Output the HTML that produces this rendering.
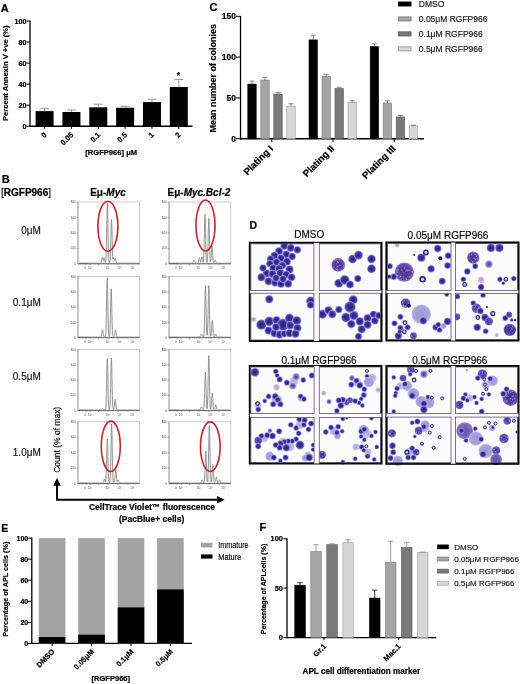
<!DOCTYPE html><html><head><meta charset="utf-8"><style>html,body{margin:0;padding:0;background:#fff;width:520px;height:684px;overflow:hidden}svg{display:block;font-family:"Liberation Sans",sans-serif;filter:blur(0.35px)}</style></head><body><svg width="520" height="684" viewBox="0 0 520 684" font-family="Liberation Sans, sans-serif"><text x="0.8" y="12.1" font-size="11" font-weight="bold" stroke="#000" stroke-width="0.22" text-anchor="start" fill="#000" >A</text>
<line x1="30.00" y1="20.50" x2="30.00" y2="127.00" stroke="#000" stroke-width="1.3"/>
<line x1="29.40" y1="126.30" x2="192.40" y2="126.30" stroke="#000" stroke-width="1.4"/>
<line x1="26.50" y1="126.30" x2="30.00" y2="126.30" stroke="#000" stroke-width="1"/>
<text x="26.6" y="128.9" font-size="7.2" font-weight="bold" stroke="#000" stroke-width="0.22" text-anchor="end" fill="#000" >0</text>
<line x1="26.50" y1="105.24" x2="30.00" y2="105.24" stroke="#000" stroke-width="1"/>
<text x="26.6" y="107.83999999999999" font-size="7.2" font-weight="bold" stroke="#000" stroke-width="0.22" text-anchor="end" fill="#000" >20</text>
<line x1="26.50" y1="84.18" x2="30.00" y2="84.18" stroke="#000" stroke-width="1"/>
<text x="26.6" y="86.78" font-size="7.2" font-weight="bold" stroke="#000" stroke-width="0.22" text-anchor="end" fill="#000" >40</text>
<line x1="26.50" y1="63.12" x2="30.00" y2="63.12" stroke="#000" stroke-width="1"/>
<text x="26.6" y="65.72" font-size="7.2" font-weight="bold" stroke="#000" stroke-width="0.22" text-anchor="end" fill="#000" >60</text>
<line x1="26.50" y1="42.06" x2="30.00" y2="42.06" stroke="#000" stroke-width="1"/>
<text x="26.6" y="44.660000000000004" font-size="7.2" font-weight="bold" stroke="#000" stroke-width="0.22" text-anchor="end" fill="#000" >80</text>
<line x1="26.50" y1="21.00" x2="30.00" y2="21.00" stroke="#000" stroke-width="1"/>
<text x="26.6" y="23.6" font-size="7.2" font-weight="bold" stroke="#000" stroke-width="0.22" text-anchor="end" fill="#000" >100</text>
<rect x="35.60" y="111.14" width="18.00" height="15.16" fill="#000"/>
<line x1="44.60" y1="108.71" x2="44.60" y2="111.14" stroke="#777" stroke-width="0.75"/>
<line x1="40.10" y1="108.71" x2="49.10" y2="108.71" stroke="#777" stroke-width="0.75"/>
<line x1="44.60" y1="126.30" x2="44.60" y2="128.90" stroke="#000" stroke-width="1"/>
<text x="47.1" y="135.3" font-size="7.5" font-weight="bold" stroke="#000" stroke-width="0.22" text-anchor="end" transform="rotate(-45 47.1 135.3)">0</text>
<rect x="62.44" y="111.98" width="18.00" height="14.32" fill="#000"/>
<line x1="71.44" y1="109.98" x2="71.44" y2="111.98" stroke="#777" stroke-width="0.75"/>
<line x1="66.94" y1="109.98" x2="75.94" y2="109.98" stroke="#777" stroke-width="0.75"/>
<line x1="71.44" y1="126.30" x2="71.44" y2="128.90" stroke="#000" stroke-width="1"/>
<text x="73.94" y="135.3" font-size="7.5" font-weight="bold" stroke="#000" stroke-width="0.22" text-anchor="end" transform="rotate(-45 73.94 135.3)">0.05</text>
<rect x="89.28" y="107.35" width="18.00" height="18.95" fill="#000"/>
<line x1="98.28" y1="104.19" x2="98.28" y2="107.35" stroke="#777" stroke-width="0.75"/>
<line x1="93.78" y1="104.19" x2="102.78" y2="104.19" stroke="#777" stroke-width="0.75"/>
<line x1="98.28" y1="126.30" x2="98.28" y2="128.90" stroke="#000" stroke-width="1"/>
<text x="100.78" y="135.3" font-size="7.5" font-weight="bold" stroke="#000" stroke-width="0.22" text-anchor="end" transform="rotate(-45 100.78 135.3)">0.1</text>
<rect x="116.12" y="107.77" width="18.00" height="18.53" fill="#000"/>
<line x1="125.12" y1="106.29" x2="125.12" y2="107.77" stroke="#777" stroke-width="0.75"/>
<line x1="120.62" y1="106.29" x2="129.62" y2="106.29" stroke="#777" stroke-width="0.75"/>
<line x1="125.12" y1="126.30" x2="125.12" y2="128.90" stroke="#000" stroke-width="1"/>
<text x="127.62" y="135.3" font-size="7.5" font-weight="bold" stroke="#000" stroke-width="0.22" text-anchor="end" transform="rotate(-45 127.62 135.3)">0.5</text>
<rect x="142.96" y="102.08" width="18.00" height="24.22" fill="#000"/>
<line x1="151.96" y1="99.24" x2="151.96" y2="102.08" stroke="#777" stroke-width="0.75"/>
<line x1="147.46" y1="99.24" x2="156.46" y2="99.24" stroke="#777" stroke-width="0.75"/>
<line x1="151.96" y1="126.30" x2="151.96" y2="128.90" stroke="#000" stroke-width="1"/>
<text x="154.46" y="135.3" font-size="7.5" font-weight="bold" stroke="#000" stroke-width="0.22" text-anchor="end" transform="rotate(-45 154.46 135.3)">1</text>
<rect x="169.80" y="87.02" width="18.00" height="39.28" fill="#000"/>
<line x1="178.80" y1="79.55" x2="178.80" y2="87.02" stroke="#777" stroke-width="0.75"/>
<line x1="174.30" y1="79.55" x2="183.30" y2="79.55" stroke="#777" stroke-width="0.75"/>
<line x1="178.80" y1="126.30" x2="178.80" y2="128.90" stroke="#000" stroke-width="1"/>
<text x="181.29999999999998" y="135.3" font-size="7.5" font-weight="bold" stroke="#000" stroke-width="0.22" text-anchor="end" transform="rotate(-45 181.29999999999998 135.3)">2</text>
<text x="178.6" y="77.8" font-size="9" font-weight="bold" stroke="#000" stroke-width="0.22" text-anchor="middle" fill="#000" >*</text>
<text x="85.3" y="155.2" font-size="7.9" font-weight="bold" stroke="#000" stroke-width="0.22" text-anchor="start" fill="#000" textLength="51.8" lengthAdjust="spacingAndGlyphs" >[RGFP966] μM</text>
<text x="0" y="0" font-size="7.6" font-weight="bold" stroke="#000" stroke-width="0.18" text-anchor="middle" transform="translate(8.2,73.2) rotate(-90)" textLength="95.5" lengthAdjust="spacingAndGlyphs">Percent Annexin V +ve (%)</text>
<text x="209.5" y="11.4" font-size="11" font-weight="bold" stroke="#000" stroke-width="0.22" text-anchor="start" fill="#000" >C</text>
<line x1="240.50" y1="16.00" x2="240.50" y2="139.50" stroke="#000" stroke-width="1.3"/>
<line x1="239.90" y1="138.80" x2="424.00" y2="138.80" stroke="#000" stroke-width="1.4"/>
<line x1="236.00" y1="138.80" x2="240.50" y2="138.80" stroke="#000" stroke-width="1"/>
<text x="236" y="141.8" font-size="8.5" font-weight="bold" stroke="#000" stroke-width="0.22" text-anchor="end" fill="#000" >0</text>
<line x1="236.00" y1="97.97" x2="240.50" y2="97.97" stroke="#000" stroke-width="1"/>
<text x="236" y="100.965" font-size="8.5" font-weight="bold" stroke="#000" stroke-width="0.22" text-anchor="end" fill="#000" >50</text>
<line x1="236.00" y1="57.13" x2="240.50" y2="57.13" stroke="#000" stroke-width="1"/>
<text x="236" y="60.13000000000001" font-size="8.5" font-weight="bold" stroke="#000" stroke-width="0.22" text-anchor="end" fill="#000" >100</text>
<line x1="236.00" y1="16.30" x2="240.50" y2="16.30" stroke="#000" stroke-width="1"/>
<text x="236" y="19.295000000000016" font-size="8.5" font-weight="bold" stroke="#000" stroke-width="0.22" text-anchor="end" fill="#000" >150</text>
<rect x="247.80" y="84.10" width="8.40" height="54.70" fill="#000" stroke="#000" stroke-width="0.6"/>
<line x1="252.00" y1="81.20" x2="252.00" y2="84.10" stroke="#555" stroke-width="0.7"/>
<line x1="249.50" y1="81.20" x2="254.50" y2="81.20" stroke="#555" stroke-width="0.7"/>
<rect x="260.80" y="80.10" width="8.40" height="58.70" fill="#a5a5a5" stroke="#777" stroke-width="0.6"/>
<line x1="265.00" y1="77.40" x2="265.00" y2="80.10" stroke="#555" stroke-width="0.7"/>
<line x1="262.50" y1="77.40" x2="267.50" y2="77.40" stroke="#555" stroke-width="0.7"/>
<rect x="273.80" y="94.10" width="8.40" height="44.70" fill="#7a7a7a" stroke="#555" stroke-width="0.6"/>
<line x1="278.00" y1="92.50" x2="278.00" y2="94.10" stroke="#555" stroke-width="0.7"/>
<line x1="275.50" y1="92.50" x2="280.50" y2="92.50" stroke="#555" stroke-width="0.7"/>
<rect x="286.80" y="106.20" width="8.40" height="32.60" fill="#d6d6d6" stroke="#9c9c9c" stroke-width="0.6"/>
<line x1="291.00" y1="103.80" x2="291.00" y2="106.20" stroke="#555" stroke-width="0.7"/>
<line x1="288.50" y1="103.80" x2="293.50" y2="103.80" stroke="#555" stroke-width="0.7"/>
<line x1="271.80" y1="138.80" x2="271.80" y2="142.10" stroke="#000" stroke-width="1"/>
<text x="273.8" y="149.3" font-size="9.6" font-weight="bold" stroke="#000" stroke-width="0.22" text-anchor="end" transform="rotate(-45 273.8 149.3)">Plating I</text>
<rect x="309.00" y="39.90" width="8.40" height="98.90" fill="#000" stroke="#000" stroke-width="0.6"/>
<line x1="313.20" y1="35.30" x2="313.20" y2="39.90" stroke="#555" stroke-width="0.7"/>
<line x1="310.70" y1="35.30" x2="315.70" y2="35.30" stroke="#555" stroke-width="0.7"/>
<rect x="322.00" y="76.20" width="8.40" height="62.60" fill="#a5a5a5" stroke="#777" stroke-width="0.6"/>
<line x1="326.20" y1="74.40" x2="326.20" y2="76.20" stroke="#555" stroke-width="0.7"/>
<line x1="323.70" y1="74.40" x2="328.70" y2="74.40" stroke="#555" stroke-width="0.7"/>
<rect x="335.00" y="88.50" width="8.40" height="50.30" fill="#7a7a7a" stroke="#555" stroke-width="0.6"/>
<line x1="339.20" y1="87.30" x2="339.20" y2="88.50" stroke="#555" stroke-width="0.7"/>
<line x1="336.70" y1="87.30" x2="341.70" y2="87.30" stroke="#555" stroke-width="0.7"/>
<rect x="348.00" y="102.30" width="8.40" height="36.50" fill="#d6d6d6" stroke="#9c9c9c" stroke-width="0.6"/>
<line x1="352.20" y1="100.80" x2="352.20" y2="102.30" stroke="#555" stroke-width="0.7"/>
<line x1="349.70" y1="100.80" x2="354.70" y2="100.80" stroke="#555" stroke-width="0.7"/>
<line x1="333.00" y1="138.80" x2="333.00" y2="142.10" stroke="#000" stroke-width="1"/>
<text x="335.0" y="149.3" font-size="9.6" font-weight="bold" stroke="#000" stroke-width="0.22" text-anchor="end" transform="rotate(-45 335.0 149.3)">Plating II</text>
<rect x="370.20" y="46.70" width="8.40" height="92.10" fill="#000" stroke="#000" stroke-width="0.6"/>
<line x1="374.40" y1="43.80" x2="374.40" y2="46.70" stroke="#555" stroke-width="0.7"/>
<line x1="371.90" y1="43.80" x2="376.90" y2="43.80" stroke="#555" stroke-width="0.7"/>
<rect x="383.20" y="103.00" width="8.40" height="35.80" fill="#a5a5a5" stroke="#777" stroke-width="0.6"/>
<line x1="387.40" y1="100.80" x2="387.40" y2="103.00" stroke="#555" stroke-width="0.7"/>
<line x1="384.90" y1="100.80" x2="389.90" y2="100.80" stroke="#555" stroke-width="0.7"/>
<rect x="396.20" y="116.90" width="8.40" height="21.90" fill="#7a7a7a" stroke="#555" stroke-width="0.6"/>
<line x1="400.40" y1="115.40" x2="400.40" y2="116.90" stroke="#555" stroke-width="0.7"/>
<line x1="397.90" y1="115.40" x2="402.90" y2="115.40" stroke="#555" stroke-width="0.7"/>
<rect x="409.20" y="125.90" width="8.40" height="12.90" fill="#d6d6d6" stroke="#9c9c9c" stroke-width="0.6"/>
<line x1="413.40" y1="125.20" x2="413.40" y2="125.90" stroke="#555" stroke-width="0.7"/>
<line x1="410.90" y1="125.20" x2="415.90" y2="125.20" stroke="#555" stroke-width="0.7"/>
<line x1="394.20" y1="138.80" x2="394.20" y2="142.10" stroke="#000" stroke-width="1"/>
<text x="396.2" y="149.3" font-size="9.6" font-weight="bold" stroke="#000" stroke-width="0.22" text-anchor="end" transform="rotate(-45 396.2 149.3)">Plating III</text>
<text x="0" y="0" font-size="9" font-weight="bold" stroke="#000" stroke-width="0.18" text-anchor="middle" transform="translate(216.3,78.3) rotate(-90)" textLength="108.5" lengthAdjust="spacingAndGlyphs">Mean number of colonies</text>
<rect x="398.40" y="2.00" width="12.60" height="4.00" fill="#000" stroke="#000" stroke-width="0.9"/>
<text x="418.8" y="7.2" font-size="8.5" stroke="#111" stroke-width="0.15" text-anchor="start" fill="#111" >DMSO</text>
<rect x="398.40" y="16.95" width="12.60" height="4.00" fill="#a5a5a5" stroke="#777" stroke-width="0.9"/>
<text x="418.8" y="22.15" font-size="8.5" stroke="#111" stroke-width="0.15" text-anchor="start" fill="#111" >0.05μM RGFP966</text>
<rect x="398.40" y="31.90" width="12.60" height="4.00" fill="#7a7a7a" stroke="#555" stroke-width="0.9"/>
<text x="418.8" y="37.1" font-size="8.5" stroke="#111" stroke-width="0.15" text-anchor="start" fill="#111" >0.1μM RGFP966</text>
<rect x="398.40" y="46.85" width="12.60" height="4.00" fill="#d6d6d6" stroke="#9c9c9c" stroke-width="0.9"/>
<text x="418.8" y="52.05" font-size="8.5" stroke="#111" stroke-width="0.15" text-anchor="start" fill="#111" >0.5μM RGFP966</text>
<text x="1.8" y="182.8" font-size="11" font-weight="bold" stroke="#000" stroke-width="0.22" text-anchor="start" fill="#000" >B</text>
<text x="1" y="195.6" font-size="10" stroke="#000" stroke-width="0.15"><tspan>[</tspan><tspan font-weight="bold" stroke-width="0.22">RGFP966</tspan><tspan>]</tspan></text>
<text x="90.2" y="196.3" font-size="10" font-weight="bold" stroke="#000" stroke-width="0.22">Eμ-<tspan font-style="italic">Myc</tspan></text>
<text x="167.5" y="196.3" font-size="10" font-weight="bold" stroke="#000" stroke-width="0.22">Eμ-<tspan font-style="italic">Myc.Bcl-2</tspan></text>
<text x="40.8" y="234.2" font-size="10" stroke="#111" stroke-width="0.15" text-anchor="end" fill="#111" >0μM</text>
<rect x="78.00" y="202.00" width="61.60" height="61.80" fill="none" stroke="#a8a8a8" stroke-width="0.6"/>
<line x1="78.00" y1="202.00" x2="78.00" y2="263.80" stroke="#9a9a9a" stroke-width="0.8"/>
<line x1="78.00" y1="263.80" x2="139.60" y2="263.80" stroke="#555" stroke-width="0.9"/>
<line x1="79.00" y1="263.50" x2="88.00" y2="263.50" stroke="#555" stroke-width="0.8"/>
<line x1="76.50" y1="263.80" x2="78.00" y2="263.80" stroke="#777" stroke-width="0.5"/>
<text x="75.7" y="264.90000000000003" font-size="2.9" text-anchor="end" fill="#444" >0</text>
<line x1="76.50" y1="248.35" x2="78.00" y2="248.35" stroke="#777" stroke-width="0.5"/>
<text x="75.7" y="249.45000000000002" font-size="2.9" text-anchor="end" fill="#444" >200</text>
<line x1="76.50" y1="232.90" x2="78.00" y2="232.90" stroke="#777" stroke-width="0.5"/>
<text x="75.7" y="234.0" font-size="2.9" text-anchor="end" fill="#444" >400</text>
<line x1="76.50" y1="217.45" x2="78.00" y2="217.45" stroke="#777" stroke-width="0.5"/>
<text x="75.7" y="218.54999999999998" font-size="2.9" text-anchor="end" fill="#444" >600</text>
<line x1="76.50" y1="202.00" x2="78.00" y2="202.00" stroke="#777" stroke-width="0.5"/>
<text x="75.7" y="203.1" font-size="2.9" text-anchor="end" fill="#444" >800</text>
<line x1="86.00" y1="263.80" x2="86.00" y2="265.30" stroke="#777" stroke-width="0.5"/>
<line x1="90.00" y1="263.80" x2="90.00" y2="265.30" stroke="#777" stroke-width="0.5"/>
<line x1="98.50" y1="263.80" x2="98.50" y2="265.30" stroke="#777" stroke-width="0.5"/>
<line x1="108.00" y1="263.80" x2="108.00" y2="265.30" stroke="#777" stroke-width="0.5"/>
<line x1="118.00" y1="263.80" x2="118.00" y2="265.30" stroke="#777" stroke-width="0.5"/>
<line x1="128.00" y1="263.80" x2="128.00" y2="265.30" stroke="#777" stroke-width="0.5"/>
<text x="85" y="268.8" font-size="2.8" text-anchor="middle" fill="#444" >0</text>
<text x="90" y="268.8" font-size="2.8" text-anchor="middle" fill="#444" >10²</text>
<text x="107.5" y="268.8" font-size="2.8" text-anchor="middle" fill="#444" >10³</text>
<text x="119.5" y="268.8" font-size="2.8" text-anchor="middle" fill="#444" >10⁴</text>
<text x="132.5" y="268.8" font-size="2.8" text-anchor="middle" fill="#444" >10⁵</text>
<path d="M78.80,263.10 L79.00,263.10 L79.20,263.10 L79.40,263.10 L79.60,263.10 L79.80,263.10 L80.00,263.10 L80.20,263.10 L80.40,263.10 L80.60,263.10 L80.80,263.10 L81.00,263.10 L81.20,263.10 L81.40,263.10 L81.60,263.10 L81.80,263.10 L82.00,263.10 L82.20,263.10 L82.40,263.10 L82.60,263.10 L82.80,263.10 L83.00,263.10 L83.20,263.10 L83.40,263.10 L83.60,263.10 L83.80,263.10 L84.00,263.10 L84.20,263.10 L84.40,263.10 L84.60,263.10 L84.80,263.10 L85.00,263.10 L85.20,263.10 L85.40,263.10 L85.60,263.10 L85.80,263.10 L86.00,263.10 L86.20,263.10 L86.40,263.10 L86.60,263.10 L86.80,263.10 L87.00,263.10 L87.20,263.10 L87.40,263.10 L87.60,263.10 L87.80,263.10 L88.00,263.10 L88.20,263.10 L88.40,263.10 L88.60,263.10 L88.80,263.10 L89.00,263.10 L89.20,263.10 L89.40,263.10 L89.60,263.10 L89.80,263.10 L90.00,263.10 L90.20,263.10 L90.40,263.10 L90.60,263.10 L90.80,263.10 L91.00,263.10 L91.20,263.10 L91.40,263.10 L91.60,263.10 L91.80,263.10 L92.00,263.10 L92.20,263.10 L92.40,263.10 L92.60,263.10 L92.80,263.10 L93.00,263.10 L93.20,263.10 L93.40,263.10 L93.60,263.10 L93.80,263.10 L94.00,263.10 L94.20,263.10 L94.40,263.10 L94.60,263.10 L94.80,263.10 L95.00,263.10 L95.20,263.10 L95.40,263.10 L95.60,263.10 L95.80,263.10 L96.00,263.10 L96.20,263.10 L96.40,263.10 L96.60,263.10 L96.80,263.10 L97.00,263.10 L97.20,263.10 L97.40,263.10 L97.60,263.10 L97.80,263.10 L98.00,263.10 L98.20,263.10 L98.40,263.10 L98.60,263.10 L98.80,263.10 L99.00,263.10 L99.20,263.10 L99.40,263.10 L99.60,263.10 L99.80,263.10 L100.00,263.10 L100.20,263.09 L100.40,263.07 L100.60,263.01 L100.80,262.88 L101.00,262.62 L101.20,262.16 L101.40,261.44 L101.60,260.44 L101.80,259.27 L102.00,258.14 L102.20,257.30 L102.40,256.99 L102.60,257.30 L102.80,258.14 L103.00,259.27 L103.20,260.44 L103.40,259.66 L103.60,258.63 L103.80,257.88 L104.00,257.60 L104.20,257.88 L104.40,258.63 L104.60,259.66 L104.80,260.71 L105.00,261.60 L105.20,262.26 L105.40,262.67 L105.60,262.21 L105.80,260.96 L106.00,258.42 L106.20,253.90 L106.40,246.79 L106.60,237.05 L106.80,225.61 L107.00,214.47 L107.20,206.26 L107.40,203.22 L107.60,206.26 L107.80,214.47 L108.00,225.61 L108.20,237.05 L108.40,246.79 L108.60,253.90 L108.80,258.42 L109.00,260.96 L109.20,262.21 L109.40,262.77 L109.60,262.70 L109.80,262.07 L110.00,260.74 L110.20,258.22 L110.40,253.98 L110.60,247.76 L110.80,239.84 L111.00,231.32 L111.20,223.97 L111.40,219.68 L111.60,219.68 L111.80,223.97 L112.00,231.32 L112.20,239.84 L112.40,247.76 L112.60,253.98 L112.80,258.22 L113.00,259.27 L113.20,258.14 L113.40,257.30 L113.60,256.99 L113.80,257.30 L114.00,258.14 L114.20,259.27 L114.40,260.44 L114.60,260.52 L114.80,259.57 L115.00,258.75 L115.20,258.28 L115.40,258.28 L115.60,258.75 L115.80,259.57 L116.00,260.52 L116.20,261.40 L116.40,262.09 L116.60,262.56 L116.80,262.84 L117.00,262.99 L117.20,263.06 L117.40,263.08 L117.60,263.09 L117.80,263.10 L118.00,263.10 L118.20,263.10 L118.40,263.10 L118.60,263.10 L118.80,263.10 L119.00,263.10 L119.20,263.10 L119.40,263.10 L119.60,263.10 L119.80,263.10 L120.00,263.10 L120.20,263.10 L120.40,263.10 L120.60,263.10 L120.80,263.10 L121.00,263.10 L121.20,263.10 L121.40,263.10 L121.60,263.10 L121.80,263.10 L122.00,263.10 L122.20,263.10 L122.40,263.10 L122.60,263.10 L122.80,263.10 L123.00,263.10 L123.20,263.10 L123.40,263.10 L123.60,263.10 L123.80,263.10 L124.00,263.10 L124.20,263.10 L124.40,263.10 L124.60,263.10 L124.80,263.10 L125.00,263.10 L125.20,263.10 L125.40,263.10 L125.60,263.10 L125.80,263.10 L126.00,263.10 L126.20,263.10 L126.40,263.10 L126.60,263.10 L126.80,263.10 L127.00,263.10 L127.20,263.10 L127.40,263.10 L127.60,263.10 L127.80,263.10 L128.00,263.10 L128.20,263.10 L128.40,263.10 L128.60,263.10 L128.80,263.10 L129.00,263.10 L129.20,263.10 L129.40,263.10 L129.60,263.10 L129.80,263.10 L130.00,263.10 L130.20,263.10 L130.40,263.10 L130.60,263.10 L130.80,263.10 L131.00,263.10 L131.20,263.10 L131.40,263.10 L131.60,263.10 L131.80,263.10 L132.00,263.10 L132.20,263.10 L132.40,263.10 L132.60,263.10 L132.80,263.10 L133.00,263.10 L133.20,263.10 L133.40,263.10 L133.60,263.10 L133.80,263.10 L134.00,263.10 L134.20,263.10 L134.40,263.10 L134.60,263.10 L134.80,263.10 L135.00,263.10 L135.20,263.10 L135.40,263.10 L135.60,263.10 L135.80,263.10 L136.00,263.10 L136.20,263.10 L136.40,263.10 L136.60,263.10 L136.80,263.10 L137.00,263.10 L137.20,263.10 L137.40,263.10 L137.60,263.10 L137.80,263.10 L138.00,263.10 L138.20,263.10 L138.40,263.10 L138.60,263.10" fill="rgba(0,0,0,0.05)" stroke="#858585" stroke-width="0.85" stroke-linejoin="round"/>
<rect x="169.00" y="202.00" width="61.80" height="61.80" fill="none" stroke="#a8a8a8" stroke-width="0.6"/>
<line x1="169.00" y1="202.00" x2="169.00" y2="263.80" stroke="#9a9a9a" stroke-width="0.8"/>
<line x1="169.00" y1="263.80" x2="230.80" y2="263.80" stroke="#555" stroke-width="0.9"/>
<line x1="170.00" y1="263.50" x2="179.00" y2="263.50" stroke="#555" stroke-width="0.8"/>
<line x1="167.50" y1="263.80" x2="169.00" y2="263.80" stroke="#777" stroke-width="0.5"/>
<text x="166.7" y="264.90000000000003" font-size="2.9" text-anchor="end" fill="#444" >0</text>
<line x1="167.50" y1="248.35" x2="169.00" y2="248.35" stroke="#777" stroke-width="0.5"/>
<text x="166.7" y="249.45000000000002" font-size="2.9" text-anchor="end" fill="#444" >200</text>
<line x1="167.50" y1="232.90" x2="169.00" y2="232.90" stroke="#777" stroke-width="0.5"/>
<text x="166.7" y="234.0" font-size="2.9" text-anchor="end" fill="#444" >400</text>
<line x1="167.50" y1="217.45" x2="169.00" y2="217.45" stroke="#777" stroke-width="0.5"/>
<text x="166.7" y="218.54999999999998" font-size="2.9" text-anchor="end" fill="#444" >600</text>
<line x1="167.50" y1="202.00" x2="169.00" y2="202.00" stroke="#777" stroke-width="0.5"/>
<text x="166.7" y="203.1" font-size="2.9" text-anchor="end" fill="#444" >800</text>
<line x1="177.00" y1="263.80" x2="177.00" y2="265.30" stroke="#777" stroke-width="0.5"/>
<line x1="181.00" y1="263.80" x2="181.00" y2="265.30" stroke="#777" stroke-width="0.5"/>
<line x1="189.50" y1="263.80" x2="189.50" y2="265.30" stroke="#777" stroke-width="0.5"/>
<line x1="199.00" y1="263.80" x2="199.00" y2="265.30" stroke="#777" stroke-width="0.5"/>
<line x1="209.00" y1="263.80" x2="209.00" y2="265.30" stroke="#777" stroke-width="0.5"/>
<line x1="219.00" y1="263.80" x2="219.00" y2="265.30" stroke="#777" stroke-width="0.5"/>
<text x="176" y="268.8" font-size="2.8" text-anchor="middle" fill="#444" >0</text>
<text x="181" y="268.8" font-size="2.8" text-anchor="middle" fill="#444" >10²</text>
<text x="198.5" y="268.8" font-size="2.8" text-anchor="middle" fill="#444" >10³</text>
<text x="210.5" y="268.8" font-size="2.8" text-anchor="middle" fill="#444" >10⁴</text>
<text x="223.5" y="268.8" font-size="2.8" text-anchor="middle" fill="#444" >10⁵</text>
<path d="M169.80,263.10 L170.00,263.10 L170.20,263.10 L170.40,263.10 L170.60,263.10 L170.80,263.10 L171.00,263.10 L171.20,263.10 L171.40,263.10 L171.60,263.10 L171.80,263.10 L172.00,263.10 L172.20,263.10 L172.40,263.10 L172.60,263.10 L172.80,263.10 L173.00,263.10 L173.20,263.10 L173.40,263.10 L173.60,263.10 L173.80,263.10 L174.00,263.10 L174.20,263.10 L174.40,263.10 L174.60,263.10 L174.80,263.10 L175.00,263.10 L175.20,263.10 L175.40,263.10 L175.60,263.10 L175.80,263.10 L176.00,263.10 L176.20,263.10 L176.40,263.10 L176.60,263.10 L176.80,263.10 L177.00,263.10 L177.20,263.10 L177.40,263.10 L177.60,263.10 L177.80,263.10 L178.00,263.10 L178.20,263.10 L178.40,263.10 L178.60,263.10 L178.80,263.10 L179.00,263.10 L179.20,263.10 L179.40,263.10 L179.60,263.10 L179.80,263.10 L180.00,263.10 L180.20,263.10 L180.40,263.10 L180.60,263.10 L180.80,263.10 L181.00,263.10 L181.20,263.10 L181.40,263.10 L181.60,263.10 L181.80,263.10 L182.00,263.10 L182.20,263.10 L182.40,263.10 L182.60,263.10 L182.80,263.10 L183.00,263.10 L183.20,263.10 L183.40,263.10 L183.60,263.10 L183.80,263.10 L184.00,263.10 L184.20,263.10 L184.40,263.10 L184.60,263.10 L184.80,263.10 L185.00,263.10 L185.20,263.10 L185.40,263.10 L185.60,263.10 L185.80,263.10 L186.00,263.10 L186.20,263.10 L186.40,263.10 L186.60,263.10 L186.80,263.10 L187.00,263.10 L187.20,263.10 L187.40,263.10 L187.60,263.10 L187.80,263.10 L188.00,263.10 L188.20,263.10 L188.40,263.10 L188.60,263.10 L188.80,263.10 L189.00,263.10 L189.20,263.10 L189.40,263.10 L189.60,263.10 L189.80,263.10 L190.00,263.10 L190.20,263.10 L190.40,263.10 L190.60,263.10 L190.80,263.10 L191.00,263.10 L191.20,263.10 L191.40,263.10 L191.60,263.10 L191.80,263.09 L192.00,263.08 L192.20,263.05 L192.40,262.99 L192.60,262.86 L192.80,262.63 L193.00,262.27 L193.20,261.77 L193.40,261.19 L193.60,260.62 L193.80,260.20 L194.00,260.05 L194.20,260.20 L194.40,260.62 L194.60,261.19 L194.80,261.77 L195.00,262.27 L195.20,262.63 L195.40,262.86 L195.60,262.99 L195.80,263.05 L196.00,263.08 L196.20,263.09 L196.40,263.10 L196.60,263.10 L196.80,263.10 L197.00,263.10 L197.20,263.09 L197.40,263.08 L197.60,263.05 L197.80,262.97 L198.00,262.81 L198.20,262.49 L198.40,261.96 L198.60,261.18 L198.80,260.19 L199.00,259.13 L199.20,258.21 L199.40,257.67 L199.60,257.67 L199.80,258.21 L200.00,259.13 L200.20,260.19 L200.40,261.18 L200.60,261.96 L200.80,262.16 L201.00,261.44 L201.20,260.44 L201.40,259.27 L201.60,258.14 L201.80,257.30 L202.00,256.99 L202.20,257.30 L202.40,258.14 L202.60,259.27 L202.80,260.44 L203.00,261.44 L203.20,262.16 L203.40,261.35 L203.60,259.28 L203.80,255.59 L204.00,249.79 L204.20,241.84 L204.40,232.50 L204.60,223.40 L204.80,216.70 L205.00,214.22 L205.20,216.70 L205.40,223.40 L205.60,232.50 L205.80,241.84 L206.00,249.79 L206.20,255.59 L206.40,259.28 L206.60,261.35 L206.80,262.38 L207.00,262.44 L207.20,261.50 L207.40,259.62 L207.60,256.25 L207.80,250.95 L208.00,243.70 L208.20,235.17 L208.40,226.88 L208.60,220.76 L208.80,218.50 L209.00,220.76 L209.20,226.88 L209.40,235.17 L209.60,243.70 L209.80,250.95 L210.00,256.25 L210.20,259.62 L210.40,261.50 L210.60,261.76 L210.80,260.47 L211.00,258.44 L211.20,255.66 L211.40,252.39 L211.60,249.21 L211.80,246.86 L212.00,245.99 L212.20,246.86 L212.40,249.21 L212.60,252.39 L212.80,255.66 L213.00,258.44 L213.20,260.47 L213.40,261.76 L213.60,262.49 L213.80,262.63 L214.00,262.27 L214.20,261.77 L214.40,261.19 L214.60,260.62 L214.80,260.20 L215.00,260.05 L215.20,260.20 L215.40,260.62 L215.60,261.19 L215.80,261.77 L216.00,262.27 L216.20,262.63 L216.40,262.86 L216.60,262.99 L216.80,263.05 L217.00,263.08 L217.20,263.09 L217.40,263.10 L217.60,263.10 L217.80,263.10 L218.00,263.10 L218.20,263.10 L218.40,263.10 L218.60,263.10 L218.80,263.10 L219.00,263.10 L219.20,263.10 L219.40,263.10 L219.60,263.10 L219.80,263.10 L220.00,263.10 L220.20,263.10 L220.40,263.10 L220.60,263.10 L220.80,263.10 L221.00,263.10 L221.20,263.10 L221.40,263.10 L221.60,263.10 L221.80,263.10 L222.00,263.10 L222.20,263.10 L222.40,263.10 L222.60,263.10 L222.80,263.10 L223.00,263.10 L223.20,263.10 L223.40,263.10 L223.60,263.10 L223.80,263.10 L224.00,263.10 L224.20,263.10 L224.40,263.10 L224.60,263.10 L224.80,263.10 L225.00,263.10 L225.20,263.10 L225.40,263.10 L225.60,263.10 L225.80,263.10 L226.00,263.10 L226.20,263.10 L226.40,263.10 L226.60,263.10 L226.80,263.10 L227.00,263.10 L227.20,263.10 L227.40,263.10 L227.60,263.10 L227.80,263.10 L228.00,263.10 L228.20,263.10 L228.40,263.10 L228.60,263.10 L228.80,263.10 L229.00,263.10 L229.20,263.10 L229.40,263.10 L229.60,263.10 L229.80,263.10 L230.00,263.10" fill="rgba(0,0,0,0.05)" stroke="#858585" stroke-width="0.85" stroke-linejoin="round"/>
<text x="40.8" y="305.6" font-size="10" stroke="#111" stroke-width="0.15" text-anchor="end" fill="#111" >0.1μM</text>
<rect x="78.00" y="276.60" width="61.60" height="61.10" fill="none" stroke="#a8a8a8" stroke-width="0.6"/>
<line x1="78.00" y1="276.60" x2="78.00" y2="337.70" stroke="#9a9a9a" stroke-width="0.8"/>
<line x1="78.00" y1="337.70" x2="139.60" y2="337.70" stroke="#555" stroke-width="0.9"/>
<line x1="79.00" y1="337.40" x2="88.00" y2="337.40" stroke="#555" stroke-width="0.8"/>
<line x1="76.50" y1="337.70" x2="78.00" y2="337.70" stroke="#777" stroke-width="0.5"/>
<text x="75.7" y="338.8" font-size="2.9" text-anchor="end" fill="#444" >0</text>
<line x1="76.50" y1="322.43" x2="78.00" y2="322.43" stroke="#777" stroke-width="0.5"/>
<text x="75.7" y="323.52500000000003" font-size="2.9" text-anchor="end" fill="#444" >200</text>
<line x1="76.50" y1="307.15" x2="78.00" y2="307.15" stroke="#777" stroke-width="0.5"/>
<text x="75.7" y="308.25" font-size="2.9" text-anchor="end" fill="#444" >400</text>
<line x1="76.50" y1="291.88" x2="78.00" y2="291.88" stroke="#777" stroke-width="0.5"/>
<text x="75.7" y="292.975" font-size="2.9" text-anchor="end" fill="#444" >600</text>
<line x1="76.50" y1="276.60" x2="78.00" y2="276.60" stroke="#777" stroke-width="0.5"/>
<text x="75.7" y="277.70000000000005" font-size="2.9" text-anchor="end" fill="#444" >800</text>
<line x1="86.00" y1="337.70" x2="86.00" y2="339.20" stroke="#777" stroke-width="0.5"/>
<line x1="90.00" y1="337.70" x2="90.00" y2="339.20" stroke="#777" stroke-width="0.5"/>
<line x1="98.50" y1="337.70" x2="98.50" y2="339.20" stroke="#777" stroke-width="0.5"/>
<line x1="108.00" y1="337.70" x2="108.00" y2="339.20" stroke="#777" stroke-width="0.5"/>
<line x1="118.00" y1="337.70" x2="118.00" y2="339.20" stroke="#777" stroke-width="0.5"/>
<line x1="128.00" y1="337.70" x2="128.00" y2="339.20" stroke="#777" stroke-width="0.5"/>
<text x="85" y="342.7" font-size="2.8" text-anchor="middle" fill="#444" >0</text>
<text x="90" y="342.7" font-size="2.8" text-anchor="middle" fill="#444" >10²</text>
<text x="107.5" y="342.7" font-size="2.8" text-anchor="middle" fill="#444" >10³</text>
<text x="119.5" y="342.7" font-size="2.8" text-anchor="middle" fill="#444" >10⁴</text>
<text x="132.5" y="342.7" font-size="2.8" text-anchor="middle" fill="#444" >10⁵</text>
<path d="M78.80,337.00 L79.00,337.00 L79.20,337.00 L79.40,337.00 L79.60,337.00 L79.80,337.00 L80.00,337.00 L80.20,337.00 L80.40,337.00 L80.60,337.00 L80.80,337.00 L81.00,337.00 L81.20,337.00 L81.40,337.00 L81.60,337.00 L81.80,337.00 L82.00,337.00 L82.20,337.00 L82.40,337.00 L82.60,337.00 L82.80,337.00 L83.00,337.00 L83.20,337.00 L83.40,337.00 L83.60,337.00 L83.80,337.00 L84.00,337.00 L84.20,337.00 L84.40,337.00 L84.60,337.00 L84.80,337.00 L85.00,337.00 L85.20,337.00 L85.40,337.00 L85.60,337.00 L85.80,337.00 L86.00,337.00 L86.20,337.00 L86.40,337.00 L86.60,337.00 L86.80,337.00 L87.00,337.00 L87.20,337.00 L87.40,337.00 L87.60,337.00 L87.80,337.00 L88.00,337.00 L88.20,337.00 L88.40,337.00 L88.60,337.00 L88.80,337.00 L89.00,337.00 L89.20,337.00 L89.40,337.00 L89.60,337.00 L89.80,337.00 L90.00,337.00 L90.20,337.00 L90.40,337.00 L90.60,337.00 L90.80,337.00 L91.00,337.00 L91.20,337.00 L91.40,337.00 L91.60,337.00 L91.80,337.00 L92.00,337.00 L92.20,337.00 L92.40,337.00 L92.60,337.00 L92.80,337.00 L93.00,337.00 L93.20,337.00 L93.40,337.00 L93.60,337.00 L93.80,337.00 L94.00,337.00 L94.20,337.00 L94.40,337.00 L94.60,337.00 L94.80,337.00 L95.00,337.00 L95.20,337.00 L95.40,337.00 L95.60,337.00 L95.80,337.00 L96.00,337.00 L96.20,337.00 L96.40,337.00 L96.60,337.00 L96.80,337.00 L97.00,337.00 L97.20,337.00 L97.40,337.00 L97.60,337.00 L97.80,337.00 L98.00,337.00 L98.20,337.00 L98.40,337.00 L98.60,337.00 L98.80,337.00 L99.00,337.00 L99.20,337.00 L99.40,337.00 L99.60,337.00 L99.80,337.00 L100.00,337.00 L100.20,336.99 L100.40,336.98 L100.60,336.93 L100.80,336.83 L101.00,336.61 L101.20,336.20 L101.40,335.50 L101.60,334.47 L101.80,333.17 L102.00,331.76 L102.20,330.55 L102.40,329.85 L102.60,329.85 L102.80,330.55 L103.00,331.76 L103.20,333.17 L103.40,334.47 L103.60,335.50 L103.80,336.20 L104.00,336.61 L104.20,336.83 L104.40,336.93 L104.60,336.98 L104.80,336.97 L105.00,336.89 L105.20,336.67 L105.40,336.13 L105.60,334.88 L105.80,332.38 L106.00,327.90 L106.20,320.88 L106.40,311.25 L106.60,299.94 L106.80,288.93 L107.00,280.81 L107.20,277.81 L107.40,280.81 L107.60,288.93 L107.80,299.94 L108.00,311.25 L108.20,320.88 L108.40,327.90 L108.60,332.38 L108.80,334.88 L109.00,336.13 L109.20,336.67 L109.40,336.29 L109.60,335.27 L109.80,333.22 L110.00,329.58 L110.20,323.84 L110.40,315.98 L110.60,306.75 L110.80,297.76 L111.00,291.13 L111.20,288.68 L111.40,291.13 L111.60,297.76 L111.80,306.75 L112.00,315.98 L112.20,323.84 L112.40,329.58 L112.60,333.22 L112.80,335.27 L113.00,336.29 L113.20,336.73 L113.40,336.91 L113.60,336.93 L113.80,336.83 L114.00,336.61 L114.20,336.20 L114.40,335.50 L114.60,334.47 L114.80,333.17 L115.00,331.76 L115.20,330.55 L115.40,329.85 L115.60,329.85 L115.80,330.55 L116.00,331.76 L116.20,333.17 L116.40,334.47 L116.60,335.50 L116.80,336.20 L117.00,336.61 L117.20,336.83 L117.40,336.93 L117.60,336.98 L117.80,336.99 L118.00,337.00 L118.20,337.00 L118.40,337.00 L118.60,337.00 L118.80,337.00 L119.00,337.00 L119.20,337.00 L119.40,337.00 L119.60,337.00 L119.80,337.00 L120.00,337.00 L120.20,337.00 L120.40,337.00 L120.60,337.00 L120.80,337.00 L121.00,337.00 L121.20,337.00 L121.40,337.00 L121.60,337.00 L121.80,337.00 L122.00,337.00 L122.20,337.00 L122.40,337.00 L122.60,337.00 L122.80,337.00 L123.00,337.00 L123.20,337.00 L123.40,337.00 L123.60,337.00 L123.80,337.00 L124.00,337.00 L124.20,337.00 L124.40,337.00 L124.60,337.00 L124.80,337.00 L125.00,337.00 L125.20,337.00 L125.40,337.00 L125.60,337.00 L125.80,337.00 L126.00,337.00 L126.20,337.00 L126.40,337.00 L126.60,337.00 L126.80,337.00 L127.00,337.00 L127.20,337.00 L127.40,337.00 L127.60,337.00 L127.80,337.00 L128.00,337.00 L128.20,337.00 L128.40,337.00 L128.60,337.00 L128.80,337.00 L129.00,337.00 L129.20,337.00 L129.40,337.00 L129.60,337.00 L129.80,337.00 L130.00,337.00 L130.20,337.00 L130.40,337.00 L130.60,337.00 L130.80,337.00 L131.00,337.00 L131.20,337.00 L131.40,337.00 L131.60,337.00 L131.80,337.00 L132.00,337.00 L132.20,337.00 L132.40,337.00 L132.60,337.00 L132.80,337.00 L133.00,337.00 L133.20,337.00 L133.40,337.00 L133.60,337.00 L133.80,337.00 L134.00,337.00 L134.20,337.00 L134.40,337.00 L134.60,337.00 L134.80,337.00 L135.00,337.00 L135.20,337.00 L135.40,337.00 L135.60,337.00 L135.80,337.00 L136.00,337.00 L136.20,337.00 L136.40,337.00 L136.60,337.00 L136.80,337.00 L137.00,337.00 L137.20,337.00 L137.40,337.00 L137.60,337.00 L137.80,337.00 L138.00,337.00 L138.20,337.00 L138.40,337.00 L138.60,337.00" fill="rgba(0,0,0,0.05)" stroke="#858585" stroke-width="0.85" stroke-linejoin="round"/>
<rect x="169.00" y="276.60" width="61.80" height="61.10" fill="none" stroke="#a8a8a8" stroke-width="0.6"/>
<line x1="169.00" y1="276.60" x2="169.00" y2="337.70" stroke="#9a9a9a" stroke-width="0.8"/>
<line x1="169.00" y1="337.70" x2="230.80" y2="337.70" stroke="#555" stroke-width="0.9"/>
<line x1="170.00" y1="337.40" x2="179.00" y2="337.40" stroke="#555" stroke-width="0.8"/>
<line x1="167.50" y1="337.70" x2="169.00" y2="337.70" stroke="#777" stroke-width="0.5"/>
<text x="166.7" y="338.8" font-size="2.9" text-anchor="end" fill="#444" >0</text>
<line x1="167.50" y1="322.43" x2="169.00" y2="322.43" stroke="#777" stroke-width="0.5"/>
<text x="166.7" y="323.52500000000003" font-size="2.9" text-anchor="end" fill="#444" >200</text>
<line x1="167.50" y1="307.15" x2="169.00" y2="307.15" stroke="#777" stroke-width="0.5"/>
<text x="166.7" y="308.25" font-size="2.9" text-anchor="end" fill="#444" >400</text>
<line x1="167.50" y1="291.88" x2="169.00" y2="291.88" stroke="#777" stroke-width="0.5"/>
<text x="166.7" y="292.975" font-size="2.9" text-anchor="end" fill="#444" >600</text>
<line x1="167.50" y1="276.60" x2="169.00" y2="276.60" stroke="#777" stroke-width="0.5"/>
<text x="166.7" y="277.70000000000005" font-size="2.9" text-anchor="end" fill="#444" >800</text>
<line x1="177.00" y1="337.70" x2="177.00" y2="339.20" stroke="#777" stroke-width="0.5"/>
<line x1="181.00" y1="337.70" x2="181.00" y2="339.20" stroke="#777" stroke-width="0.5"/>
<line x1="189.50" y1="337.70" x2="189.50" y2="339.20" stroke="#777" stroke-width="0.5"/>
<line x1="199.00" y1="337.70" x2="199.00" y2="339.20" stroke="#777" stroke-width="0.5"/>
<line x1="209.00" y1="337.70" x2="209.00" y2="339.20" stroke="#777" stroke-width="0.5"/>
<line x1="219.00" y1="337.70" x2="219.00" y2="339.20" stroke="#777" stroke-width="0.5"/>
<text x="176" y="342.7" font-size="2.8" text-anchor="middle" fill="#444" >0</text>
<text x="181" y="342.7" font-size="2.8" text-anchor="middle" fill="#444" >10²</text>
<text x="198.5" y="342.7" font-size="2.8" text-anchor="middle" fill="#444" >10³</text>
<text x="210.5" y="342.7" font-size="2.8" text-anchor="middle" fill="#444" >10⁴</text>
<text x="223.5" y="342.7" font-size="2.8" text-anchor="middle" fill="#444" >10⁵</text>
<path d="M169.80,337.00 L170.00,337.00 L170.20,337.00 L170.40,337.00 L170.60,337.00 L170.80,337.00 L171.00,337.00 L171.20,337.00 L171.40,337.00 L171.60,337.00 L171.80,337.00 L172.00,337.00 L172.20,337.00 L172.40,337.00 L172.60,337.00 L172.80,337.00 L173.00,337.00 L173.20,337.00 L173.40,337.00 L173.60,337.00 L173.80,337.00 L174.00,337.00 L174.20,337.00 L174.40,337.00 L174.60,337.00 L174.80,337.00 L175.00,337.00 L175.20,337.00 L175.40,337.00 L175.60,337.00 L175.80,337.00 L176.00,337.00 L176.20,337.00 L176.40,337.00 L176.60,337.00 L176.80,337.00 L177.00,337.00 L177.20,337.00 L177.40,337.00 L177.60,337.00 L177.80,337.00 L178.00,337.00 L178.20,337.00 L178.40,337.00 L178.60,337.00 L178.80,337.00 L179.00,337.00 L179.20,337.00 L179.40,337.00 L179.60,337.00 L179.80,337.00 L180.00,337.00 L180.20,337.00 L180.40,337.00 L180.60,337.00 L180.80,337.00 L181.00,337.00 L181.20,337.00 L181.40,337.00 L181.60,337.00 L181.80,337.00 L182.00,337.00 L182.20,337.00 L182.40,337.00 L182.60,337.00 L182.80,337.00 L183.00,337.00 L183.20,337.00 L183.40,337.00 L183.60,337.00 L183.80,337.00 L184.00,337.00 L184.20,337.00 L184.40,337.00 L184.60,337.00 L184.80,337.00 L185.00,337.00 L185.20,337.00 L185.40,337.00 L185.60,337.00 L185.80,337.00 L186.00,337.00 L186.20,337.00 L186.40,337.00 L186.60,337.00 L186.80,337.00 L187.00,337.00 L187.20,337.00 L187.40,337.00 L187.60,337.00 L187.80,337.00 L188.00,337.00 L188.20,337.00 L188.40,337.00 L188.60,337.00 L188.80,337.00 L189.00,337.00 L189.20,337.00 L189.40,337.00 L189.60,337.00 L189.80,337.00 L190.00,337.00 L190.20,337.00 L190.40,337.00 L190.60,337.00 L190.80,337.00 L191.00,337.00 L191.20,337.00 L191.40,337.00 L191.60,337.00 L191.80,337.00 L192.00,337.00 L192.20,337.00 L192.40,337.00 L192.60,337.00 L192.80,337.00 L193.00,337.00 L193.20,337.00 L193.40,337.00 L193.60,337.00 L193.80,337.00 L194.00,337.00 L194.20,337.00 L194.40,337.00 L194.60,337.00 L194.80,337.00 L195.00,337.00 L195.20,337.00 L195.40,337.00 L195.60,337.00 L195.80,337.00 L196.00,337.00 L196.20,337.00 L196.40,337.00 L196.60,337.00 L196.80,337.00 L197.00,337.00 L197.20,337.00 L197.40,337.00 L197.60,337.00 L197.80,337.00 L198.00,337.00 L198.20,337.00 L198.40,337.00 L198.60,337.00 L198.80,337.00 L199.00,337.00 L199.20,337.00 L199.40,336.99 L199.60,336.97 L199.80,336.93 L200.00,336.84 L200.20,336.66 L200.40,336.37 L200.60,335.95 L200.80,335.40 L201.00,334.82 L201.20,334.31 L201.40,334.02 L201.60,334.02 L201.80,334.31 L202.00,334.82 L202.20,335.40 L202.40,335.95 L202.60,336.37 L202.80,336.66 L203.00,336.84 L203.20,336.91 L203.40,336.72 L203.60,336.24 L203.80,335.16 L204.00,332.99 L204.20,329.11 L204.40,323.02 L204.60,314.67 L204.80,304.86 L205.00,295.31 L205.20,288.26 L205.40,285.66 L205.60,288.26 L205.80,295.31 L206.00,304.86 L206.20,314.67 L206.40,323.02 L206.60,329.11 L206.80,332.99 L207.00,335.16 L207.20,335.16 L207.40,332.99 L207.60,329.11 L207.80,323.02 L208.00,314.67 L208.20,304.86 L208.40,295.31 L208.60,288.26 L208.80,285.66 L209.00,288.26 L209.20,295.31 L209.40,304.86 L209.60,314.67 L209.80,323.02 L210.00,329.11 L210.20,332.99 L210.40,335.16 L210.60,336.24 L210.80,336.09 L211.00,335.12 L211.20,333.50 L211.40,331.10 L211.60,328.06 L211.80,324.78 L212.00,321.96 L212.20,320.31 L212.40,320.31 L212.60,321.96 L212.80,324.78 L213.00,328.06 L213.20,331.10 L213.40,333.50 L213.60,335.12 L213.80,336.09 L214.00,336.61 L214.20,336.85 L214.40,336.76 L214.60,336.54 L214.80,336.18 L215.00,335.69 L215.20,335.11 L215.40,334.55 L215.60,334.13 L215.80,333.98 L216.00,334.13 L216.20,334.55 L216.40,335.11 L216.60,335.69 L216.80,336.18 L217.00,336.54 L217.20,336.76 L217.40,336.89 L217.60,336.96 L217.80,336.98 L218.00,336.99 L218.20,337.00 L218.40,337.00 L218.60,337.00 L218.80,337.00 L219.00,337.00 L219.20,337.00 L219.40,337.00 L219.60,337.00 L219.80,337.00 L220.00,337.00 L220.20,337.00 L220.40,337.00 L220.60,337.00 L220.80,337.00 L221.00,337.00 L221.20,337.00 L221.40,337.00 L221.60,337.00 L221.80,337.00 L222.00,337.00 L222.20,337.00 L222.40,337.00 L222.60,337.00 L222.80,337.00 L223.00,337.00 L223.20,337.00 L223.40,337.00 L223.60,337.00 L223.80,337.00 L224.00,337.00 L224.20,337.00 L224.40,337.00 L224.60,337.00 L224.80,337.00 L225.00,337.00 L225.20,337.00 L225.40,337.00 L225.60,337.00 L225.80,337.00 L226.00,337.00 L226.20,337.00 L226.40,337.00 L226.60,337.00 L226.80,337.00 L227.00,337.00 L227.20,337.00 L227.40,337.00 L227.60,337.00 L227.80,337.00 L228.00,337.00 L228.20,337.00 L228.40,337.00 L228.60,337.00 L228.80,337.00 L229.00,337.00 L229.20,337.00 L229.40,337.00 L229.60,337.00 L229.80,337.00 L230.00,337.00" fill="rgba(0,0,0,0.05)" stroke="#858585" stroke-width="0.85" stroke-linejoin="round"/>
<text x="40.8" y="379.6" font-size="10" stroke="#111" stroke-width="0.15" text-anchor="end" fill="#111" >0.5μM</text>
<rect x="78.00" y="349.60" width="61.60" height="61.00" fill="none" stroke="#a8a8a8" stroke-width="0.6"/>
<line x1="78.00" y1="349.60" x2="78.00" y2="410.60" stroke="#9a9a9a" stroke-width="0.8"/>
<line x1="78.00" y1="410.60" x2="139.60" y2="410.60" stroke="#555" stroke-width="0.9"/>
<line x1="79.00" y1="410.30" x2="88.00" y2="410.30" stroke="#555" stroke-width="0.8"/>
<line x1="76.50" y1="410.60" x2="78.00" y2="410.60" stroke="#777" stroke-width="0.5"/>
<text x="75.7" y="411.70000000000005" font-size="2.9" text-anchor="end" fill="#444" >0</text>
<line x1="76.50" y1="395.35" x2="78.00" y2="395.35" stroke="#777" stroke-width="0.5"/>
<text x="75.7" y="396.45000000000005" font-size="2.9" text-anchor="end" fill="#444" >200</text>
<line x1="76.50" y1="380.10" x2="78.00" y2="380.10" stroke="#777" stroke-width="0.5"/>
<text x="75.7" y="381.20000000000005" font-size="2.9" text-anchor="end" fill="#444" >400</text>
<line x1="76.50" y1="364.85" x2="78.00" y2="364.85" stroke="#777" stroke-width="0.5"/>
<text x="75.7" y="365.95000000000005" font-size="2.9" text-anchor="end" fill="#444" >600</text>
<line x1="76.50" y1="349.60" x2="78.00" y2="349.60" stroke="#777" stroke-width="0.5"/>
<text x="75.7" y="350.70000000000005" font-size="2.9" text-anchor="end" fill="#444" >800</text>
<line x1="86.00" y1="410.60" x2="86.00" y2="412.10" stroke="#777" stroke-width="0.5"/>
<line x1="90.00" y1="410.60" x2="90.00" y2="412.10" stroke="#777" stroke-width="0.5"/>
<line x1="98.50" y1="410.60" x2="98.50" y2="412.10" stroke="#777" stroke-width="0.5"/>
<line x1="108.00" y1="410.60" x2="108.00" y2="412.10" stroke="#777" stroke-width="0.5"/>
<line x1="118.00" y1="410.60" x2="118.00" y2="412.10" stroke="#777" stroke-width="0.5"/>
<line x1="128.00" y1="410.60" x2="128.00" y2="412.10" stroke="#777" stroke-width="0.5"/>
<text x="85" y="415.6" font-size="2.8" text-anchor="middle" fill="#444" >0</text>
<text x="90" y="415.6" font-size="2.8" text-anchor="middle" fill="#444" >10²</text>
<text x="107.5" y="415.6" font-size="2.8" text-anchor="middle" fill="#444" >10³</text>
<text x="119.5" y="415.6" font-size="2.8" text-anchor="middle" fill="#444" >10⁴</text>
<text x="132.5" y="415.6" font-size="2.8" text-anchor="middle" fill="#444" >10⁵</text>
<path d="M78.80,409.90 L79.00,409.90 L79.20,409.90 L79.40,409.90 L79.60,409.90 L79.80,409.90 L80.00,409.90 L80.20,409.90 L80.40,409.90 L80.60,409.90 L80.80,409.90 L81.00,409.90 L81.20,409.90 L81.40,409.90 L81.60,409.90 L81.80,409.90 L82.00,409.90 L82.20,409.90 L82.40,409.90 L82.60,409.90 L82.80,409.90 L83.00,409.90 L83.20,409.90 L83.40,409.90 L83.60,409.90 L83.80,409.90 L84.00,409.90 L84.20,409.90 L84.40,409.90 L84.60,409.90 L84.80,409.90 L85.00,409.90 L85.20,409.90 L85.40,409.90 L85.60,409.90 L85.80,409.90 L86.00,409.90 L86.20,409.90 L86.40,409.90 L86.60,409.90 L86.80,409.90 L87.00,409.90 L87.20,409.90 L87.40,409.90 L87.60,409.90 L87.80,409.90 L88.00,409.90 L88.20,409.90 L88.40,409.90 L88.60,409.90 L88.80,409.90 L89.00,409.90 L89.20,409.90 L89.40,409.90 L89.60,409.90 L89.80,409.90 L90.00,409.90 L90.20,409.90 L90.40,409.90 L90.60,409.90 L90.80,409.90 L91.00,409.90 L91.20,409.90 L91.40,409.90 L91.60,409.90 L91.80,409.90 L92.00,409.90 L92.20,409.90 L92.40,409.90 L92.60,409.90 L92.80,409.90 L93.00,409.90 L93.20,409.90 L93.40,409.90 L93.60,409.90 L93.80,409.90 L94.00,409.90 L94.20,409.90 L94.40,409.90 L94.60,409.90 L94.80,409.90 L95.00,409.90 L95.20,409.90 L95.40,409.90 L95.60,409.90 L95.80,409.90 L96.00,409.90 L96.20,409.90 L96.40,409.90 L96.60,409.90 L96.80,409.90 L97.00,409.90 L97.20,409.90 L97.40,409.90 L97.60,409.90 L97.80,409.90 L98.00,409.90 L98.20,409.90 L98.40,409.90 L98.60,409.90 L98.80,409.90 L99.00,409.90 L99.20,409.90 L99.40,409.90 L99.60,409.90 L99.80,409.90 L100.00,409.90 L100.20,409.90 L100.40,409.90 L100.60,409.89 L100.80,409.87 L101.00,409.84 L101.20,409.77 L101.40,409.65 L101.60,409.48 L101.80,409.26 L102.00,409.03 L102.20,408.83 L102.40,408.71 L102.60,408.71 L102.80,408.83 L103.00,409.03 L103.20,409.26 L103.40,409.48 L103.60,409.65 L103.80,409.77 L104.00,409.84 L104.20,409.87 L104.40,409.89 L104.60,409.90 L104.80,409.88 L105.00,409.85 L105.20,409.73 L105.40,409.43 L105.60,408.69 L105.80,407.12 L106.00,404.14 L106.20,399.15 L106.40,391.82 L106.60,382.48 L106.80,372.44 L107.00,363.77 L107.20,358.71 L107.40,358.71 L107.60,363.77 L107.80,372.44 L108.00,382.48 L108.20,391.82 L108.40,399.15 L108.60,404.14 L108.80,407.12 L109.00,408.69 L109.20,409.43 L109.40,409.61 L109.60,409.13 L109.80,408.04 L110.00,405.85 L110.20,401.93 L110.40,395.78 L110.60,387.34 L110.80,377.43 L111.00,367.79 L111.20,360.67 L111.40,358.04 L111.60,360.67 L111.80,367.79 L112.00,377.43 L112.20,387.34 L112.40,395.78 L112.60,401.93 L112.80,405.85 L113.00,408.04 L113.20,409.13 L113.40,409.61 L113.60,409.51 L113.80,409.05 L114.00,408.23 L114.20,406.94 L114.40,405.18 L114.60,403.10 L114.80,401.09 L115.00,399.60 L115.20,399.05 L115.40,399.60 L115.60,401.09 L115.80,403.10 L116.00,405.18 L116.20,406.94 L116.40,408.23 L116.60,409.05 L116.80,409.51 L117.00,409.74 L117.20,409.84 L117.40,409.88 L117.60,409.89 L117.80,409.90 L118.00,409.90 L118.20,409.90 L118.40,409.90 L118.60,409.90 L118.80,409.90 L119.00,409.90 L119.20,409.90 L119.40,409.90 L119.60,409.90 L119.80,409.90 L120.00,409.90 L120.20,409.90 L120.40,409.90 L120.60,409.90 L120.80,409.90 L121.00,409.90 L121.20,409.90 L121.40,409.90 L121.60,409.90 L121.80,409.90 L122.00,409.90 L122.20,409.90 L122.40,409.90 L122.60,409.90 L122.80,409.90 L123.00,409.90 L123.20,409.90 L123.40,409.90 L123.60,409.90 L123.80,409.90 L124.00,409.90 L124.20,409.90 L124.40,409.90 L124.60,409.90 L124.80,409.90 L125.00,409.90 L125.20,409.90 L125.40,409.90 L125.60,409.90 L125.80,409.90 L126.00,409.90 L126.20,409.90 L126.40,409.90 L126.60,409.90 L126.80,409.90 L127.00,409.90 L127.20,409.90 L127.40,409.90 L127.60,409.90 L127.80,409.90 L128.00,409.90 L128.20,409.90 L128.40,409.90 L128.60,409.90 L128.80,409.90 L129.00,409.90 L129.20,409.90 L129.40,409.90 L129.60,409.90 L129.80,409.90 L130.00,409.90 L130.20,409.90 L130.40,409.90 L130.60,409.90 L130.80,409.90 L131.00,409.90 L131.20,409.90 L131.40,409.90 L131.60,409.90 L131.80,409.90 L132.00,409.90 L132.20,409.90 L132.40,409.90 L132.60,409.90 L132.80,409.90 L133.00,409.90 L133.20,409.90 L133.40,409.90 L133.60,409.90 L133.80,409.90 L134.00,409.90 L134.20,409.90 L134.40,409.90 L134.60,409.90 L134.80,409.90 L135.00,409.90 L135.20,409.90 L135.40,409.90 L135.60,409.90 L135.80,409.90 L136.00,409.90 L136.20,409.90 L136.40,409.90 L136.60,409.90 L136.80,409.90 L137.00,409.90 L137.20,409.90 L137.40,409.90 L137.60,409.90 L137.80,409.90 L138.00,409.90 L138.20,409.90 L138.40,409.90 L138.60,409.90" fill="rgba(0,0,0,0.05)" stroke="#858585" stroke-width="0.85" stroke-linejoin="round"/>
<rect x="169.00" y="349.60" width="61.80" height="61.00" fill="none" stroke="#a8a8a8" stroke-width="0.6"/>
<line x1="169.00" y1="349.60" x2="169.00" y2="410.60" stroke="#9a9a9a" stroke-width="0.8"/>
<line x1="169.00" y1="410.60" x2="230.80" y2="410.60" stroke="#555" stroke-width="0.9"/>
<line x1="170.00" y1="410.30" x2="179.00" y2="410.30" stroke="#555" stroke-width="0.8"/>
<line x1="167.50" y1="410.60" x2="169.00" y2="410.60" stroke="#777" stroke-width="0.5"/>
<text x="166.7" y="411.70000000000005" font-size="2.9" text-anchor="end" fill="#444" >0</text>
<line x1="167.50" y1="395.35" x2="169.00" y2="395.35" stroke="#777" stroke-width="0.5"/>
<text x="166.7" y="396.45000000000005" font-size="2.9" text-anchor="end" fill="#444" >200</text>
<line x1="167.50" y1="380.10" x2="169.00" y2="380.10" stroke="#777" stroke-width="0.5"/>
<text x="166.7" y="381.20000000000005" font-size="2.9" text-anchor="end" fill="#444" >400</text>
<line x1="167.50" y1="364.85" x2="169.00" y2="364.85" stroke="#777" stroke-width="0.5"/>
<text x="166.7" y="365.95000000000005" font-size="2.9" text-anchor="end" fill="#444" >600</text>
<line x1="167.50" y1="349.60" x2="169.00" y2="349.60" stroke="#777" stroke-width="0.5"/>
<text x="166.7" y="350.70000000000005" font-size="2.9" text-anchor="end" fill="#444" >800</text>
<line x1="177.00" y1="410.60" x2="177.00" y2="412.10" stroke="#777" stroke-width="0.5"/>
<line x1="181.00" y1="410.60" x2="181.00" y2="412.10" stroke="#777" stroke-width="0.5"/>
<line x1="189.50" y1="410.60" x2="189.50" y2="412.10" stroke="#777" stroke-width="0.5"/>
<line x1="199.00" y1="410.60" x2="199.00" y2="412.10" stroke="#777" stroke-width="0.5"/>
<line x1="209.00" y1="410.60" x2="209.00" y2="412.10" stroke="#777" stroke-width="0.5"/>
<line x1="219.00" y1="410.60" x2="219.00" y2="412.10" stroke="#777" stroke-width="0.5"/>
<text x="176" y="415.6" font-size="2.8" text-anchor="middle" fill="#444" >0</text>
<text x="181" y="415.6" font-size="2.8" text-anchor="middle" fill="#444" >10²</text>
<text x="198.5" y="415.6" font-size="2.8" text-anchor="middle" fill="#444" >10³</text>
<text x="210.5" y="415.6" font-size="2.8" text-anchor="middle" fill="#444" >10⁴</text>
<text x="223.5" y="415.6" font-size="2.8" text-anchor="middle" fill="#444" >10⁵</text>
<path d="M169.80,409.90 L170.00,409.90 L170.20,409.90 L170.40,409.90 L170.60,409.90 L170.80,409.90 L171.00,409.90 L171.20,409.90 L171.40,409.90 L171.60,409.90 L171.80,409.90 L172.00,409.90 L172.20,409.90 L172.40,409.90 L172.60,409.90 L172.80,409.90 L173.00,409.90 L173.20,409.90 L173.40,409.90 L173.60,409.90 L173.80,409.90 L174.00,409.90 L174.20,409.90 L174.40,409.90 L174.60,409.90 L174.80,409.90 L175.00,409.90 L175.20,409.90 L175.40,409.90 L175.60,409.90 L175.80,409.90 L176.00,409.90 L176.20,409.90 L176.40,409.90 L176.60,409.90 L176.80,409.90 L177.00,409.90 L177.20,409.90 L177.40,409.90 L177.60,409.90 L177.80,409.90 L178.00,409.90 L178.20,409.90 L178.40,409.90 L178.60,409.90 L178.80,409.90 L179.00,409.90 L179.20,409.90 L179.40,409.90 L179.60,409.90 L179.80,409.90 L180.00,409.90 L180.20,409.90 L180.40,409.90 L180.60,409.90 L180.80,409.90 L181.00,409.90 L181.20,409.90 L181.40,409.90 L181.60,409.90 L181.80,409.90 L182.00,409.90 L182.20,409.90 L182.40,409.90 L182.60,409.90 L182.80,409.90 L183.00,409.90 L183.20,409.90 L183.40,409.90 L183.60,409.90 L183.80,409.90 L184.00,409.90 L184.20,409.90 L184.40,409.90 L184.60,409.90 L184.80,409.90 L185.00,409.90 L185.20,409.90 L185.40,409.90 L185.60,409.90 L185.80,409.90 L186.00,409.90 L186.20,409.90 L186.40,409.90 L186.60,409.90 L186.80,409.90 L187.00,409.90 L187.20,409.90 L187.40,409.90 L187.60,409.90 L187.80,409.90 L188.00,409.90 L188.20,409.90 L188.40,409.90 L188.60,409.90 L188.80,409.90 L189.00,409.90 L189.20,409.90 L189.40,409.90 L189.60,409.90 L189.80,409.90 L190.00,409.90 L190.20,409.90 L190.40,409.90 L190.60,409.90 L190.80,409.90 L191.00,409.90 L191.20,409.90 L191.40,409.90 L191.60,409.90 L191.80,409.90 L192.00,409.90 L192.20,409.90 L192.40,409.90 L192.60,409.90 L192.80,409.90 L193.00,409.90 L193.20,409.90 L193.40,409.90 L193.60,409.90 L193.80,409.90 L194.00,409.90 L194.20,409.90 L194.40,409.90 L194.60,409.90 L194.80,409.90 L195.00,409.90 L195.20,409.90 L195.40,409.90 L195.60,409.90 L195.80,409.90 L196.00,409.90 L196.20,409.90 L196.40,409.90 L196.60,409.90 L196.80,409.90 L197.00,409.90 L197.20,409.90 L197.40,409.90 L197.60,409.90 L197.80,409.90 L198.00,409.90 L198.20,409.90 L198.40,409.90 L198.60,409.90 L198.80,409.90 L199.00,409.90 L199.20,409.90 L199.40,409.89 L199.60,409.87 L199.80,409.83 L200.00,409.74 L200.20,409.57 L200.40,409.28 L200.60,408.85 L200.80,408.31 L201.00,407.72 L201.20,407.22 L201.40,406.92 L201.60,406.92 L201.80,407.22 L202.00,407.72 L202.20,408.31 L202.40,408.85 L202.60,409.28 L202.80,409.57 L203.00,409.74 L203.20,409.83 L203.40,409.69 L203.60,409.34 L203.80,408.54 L204.00,406.93 L204.20,404.06 L204.40,399.55 L204.60,393.38 L204.80,386.12 L205.00,379.05 L205.20,373.84 L205.40,371.91 L205.60,373.84 L205.80,379.05 L206.00,386.12 L206.20,393.38 L206.40,399.55 L206.60,404.06 L206.80,406.93 L207.00,408.54 L207.20,407.96 L207.40,405.66 L207.60,401.56 L207.80,395.12 L208.00,386.29 L208.20,375.92 L208.40,365.83 L208.60,358.38 L208.80,355.63 L209.00,358.38 L209.20,365.83 L209.40,375.92 L209.60,386.29 L209.80,395.12 L210.00,401.56 L210.20,405.66 L210.40,407.96 L210.60,409.10 L210.80,409.00 L211.00,408.03 L211.20,406.40 L211.40,404.01 L211.60,400.97 L211.80,397.70 L212.00,394.88 L212.20,393.23 L212.40,393.23 L212.60,394.88 L212.80,397.70 L213.00,400.97 L213.20,404.01 L213.40,406.40 L213.60,408.03 L213.80,409.00 L214.00,409.51 L214.20,409.73 L214.40,409.52 L214.60,409.16 L214.80,408.59 L215.00,407.80 L215.20,406.88 L215.40,405.98 L215.60,405.32 L215.80,405.08 L216.00,405.32 L216.20,405.98 L216.40,406.88 L216.60,407.80 L216.80,408.59 L217.00,409.16 L217.20,409.52 L217.40,409.73 L217.60,409.83 L217.80,409.87 L218.00,409.89 L218.20,409.90 L218.40,409.90 L218.60,409.90 L218.80,409.90 L219.00,409.90 L219.20,409.90 L219.40,409.90 L219.60,409.90 L219.80,409.90 L220.00,409.90 L220.20,409.90 L220.40,409.90 L220.60,409.90 L220.80,409.90 L221.00,409.90 L221.20,409.90 L221.40,409.90 L221.60,409.90 L221.80,409.90 L222.00,409.90 L222.20,409.90 L222.40,409.90 L222.60,409.90 L222.80,409.90 L223.00,409.90 L223.20,409.90 L223.40,409.90 L223.60,409.90 L223.80,409.90 L224.00,409.90 L224.20,409.90 L224.40,409.90 L224.60,409.90 L224.80,409.90 L225.00,409.90 L225.20,409.90 L225.40,409.90 L225.60,409.90 L225.80,409.90 L226.00,409.90 L226.20,409.90 L226.40,409.90 L226.60,409.90 L226.80,409.90 L227.00,409.90 L227.20,409.90 L227.40,409.90 L227.60,409.90 L227.80,409.90 L228.00,409.90 L228.20,409.90 L228.40,409.90 L228.60,409.90 L228.80,409.90 L229.00,409.90 L229.20,409.90 L229.40,409.90 L229.60,409.90 L229.80,409.90 L230.00,409.90" fill="rgba(0,0,0,0.05)" stroke="#858585" stroke-width="0.85" stroke-linejoin="round"/>
<text x="40.8" y="455.8" font-size="10" stroke="#111" stroke-width="0.15" text-anchor="end" fill="#111" >1.0μM</text>
<rect x="78.00" y="421.80" width="61.60" height="61.80" fill="none" stroke="#a8a8a8" stroke-width="0.6"/>
<line x1="78.00" y1="421.80" x2="78.00" y2="483.60" stroke="#9a9a9a" stroke-width="0.8"/>
<line x1="78.00" y1="483.60" x2="139.60" y2="483.60" stroke="#555" stroke-width="0.9"/>
<line x1="79.00" y1="483.30" x2="88.00" y2="483.30" stroke="#555" stroke-width="0.8"/>
<line x1="76.50" y1="483.60" x2="78.00" y2="483.60" stroke="#777" stroke-width="0.5"/>
<text x="75.7" y="484.70000000000005" font-size="2.9" text-anchor="end" fill="#444" >0</text>
<line x1="76.50" y1="468.15" x2="78.00" y2="468.15" stroke="#777" stroke-width="0.5"/>
<text x="75.7" y="469.25000000000006" font-size="2.9" text-anchor="end" fill="#444" >200</text>
<line x1="76.50" y1="452.70" x2="78.00" y2="452.70" stroke="#777" stroke-width="0.5"/>
<text x="75.7" y="453.80000000000007" font-size="2.9" text-anchor="end" fill="#444" >400</text>
<line x1="76.50" y1="437.25" x2="78.00" y2="437.25" stroke="#777" stroke-width="0.5"/>
<text x="75.7" y="438.35" font-size="2.9" text-anchor="end" fill="#444" >600</text>
<line x1="76.50" y1="421.80" x2="78.00" y2="421.80" stroke="#777" stroke-width="0.5"/>
<text x="75.7" y="422.90000000000003" font-size="2.9" text-anchor="end" fill="#444" >800</text>
<line x1="86.00" y1="483.60" x2="86.00" y2="485.10" stroke="#777" stroke-width="0.5"/>
<line x1="90.00" y1="483.60" x2="90.00" y2="485.10" stroke="#777" stroke-width="0.5"/>
<line x1="98.50" y1="483.60" x2="98.50" y2="485.10" stroke="#777" stroke-width="0.5"/>
<line x1="108.00" y1="483.60" x2="108.00" y2="485.10" stroke="#777" stroke-width="0.5"/>
<line x1="118.00" y1="483.60" x2="118.00" y2="485.10" stroke="#777" stroke-width="0.5"/>
<line x1="128.00" y1="483.60" x2="128.00" y2="485.10" stroke="#777" stroke-width="0.5"/>
<text x="85" y="488.6" font-size="2.8" text-anchor="middle" fill="#444" >0</text>
<text x="90" y="488.6" font-size="2.8" text-anchor="middle" fill="#444" >10²</text>
<text x="107.5" y="488.6" font-size="2.8" text-anchor="middle" fill="#444" >10³</text>
<text x="119.5" y="488.6" font-size="2.8" text-anchor="middle" fill="#444" >10⁴</text>
<text x="132.5" y="488.6" font-size="2.8" text-anchor="middle" fill="#444" >10⁵</text>
<path d="M78.80,482.90 L79.00,482.90 L79.20,482.90 L79.40,482.90 L79.60,482.90 L79.80,482.90 L80.00,482.90 L80.20,482.90 L80.40,482.90 L80.60,482.90 L80.80,482.90 L81.00,482.90 L81.20,482.90 L81.40,482.90 L81.60,482.90 L81.80,482.90 L82.00,482.90 L82.20,482.90 L82.40,482.90 L82.60,482.90 L82.80,482.90 L83.00,482.90 L83.20,482.90 L83.40,482.90 L83.60,482.90 L83.80,482.90 L84.00,482.90 L84.20,482.90 L84.40,482.90 L84.60,482.90 L84.80,482.90 L85.00,482.90 L85.20,482.90 L85.40,482.90 L85.60,482.90 L85.80,482.90 L86.00,482.90 L86.20,482.90 L86.40,482.90 L86.60,482.90 L86.80,482.90 L87.00,482.90 L87.20,482.90 L87.40,482.90 L87.60,482.90 L87.80,482.90 L88.00,482.90 L88.20,482.90 L88.40,482.90 L88.60,482.90 L88.80,482.90 L89.00,482.90 L89.20,482.90 L89.40,482.90 L89.60,482.90 L89.80,482.90 L90.00,482.90 L90.20,482.90 L90.40,482.90 L90.60,482.90 L90.80,482.90 L91.00,482.90 L91.20,482.90 L91.40,482.90 L91.60,482.90 L91.80,482.90 L92.00,482.90 L92.20,482.90 L92.40,482.90 L92.60,482.90 L92.80,482.90 L93.00,482.90 L93.20,482.90 L93.40,482.90 L93.60,482.90 L93.80,482.90 L94.00,482.90 L94.20,482.90 L94.40,482.90 L94.60,482.90 L94.80,482.90 L95.00,482.90 L95.20,482.90 L95.40,482.90 L95.60,482.90 L95.80,482.90 L96.00,482.90 L96.20,482.90 L96.40,482.90 L96.60,482.90 L96.80,482.90 L97.00,482.90 L97.20,482.90 L97.40,482.90 L97.60,482.90 L97.80,482.90 L98.00,482.90 L98.20,482.90 L98.40,482.90 L98.60,482.90 L98.80,482.90 L99.00,482.90 L99.20,482.90 L99.40,482.90 L99.60,482.90 L99.80,482.90 L100.00,482.90 L100.20,482.90 L100.40,482.90 L100.60,482.90 L100.80,482.90 L101.00,482.90 L101.20,482.90 L101.40,482.90 L101.60,482.90 L101.80,482.90 L102.00,482.90 L102.20,482.90 L102.40,482.89 L102.60,482.87 L102.80,482.81 L103.00,482.70 L103.20,482.49 L103.40,482.14 L103.60,481.62 L103.80,480.96 L104.00,480.25 L104.20,479.64 L104.40,479.28 L104.60,479.28 L104.80,479.64 L105.00,480.25 L105.20,480.96 L105.40,481.62 L105.60,481.86 L105.80,480.51 L106.00,477.95 L106.20,473.66 L106.40,467.35 L106.60,459.32 L106.80,450.68 L107.00,443.22 L107.20,438.87 L107.40,438.87 L107.60,443.22 L107.80,450.68 L108.00,459.32 L108.20,467.35 L108.40,473.66 L108.60,477.95 L108.80,480.51 L109.00,481.86 L109.20,482.49 L109.40,482.76 L109.60,482.57 L109.80,482.02 L110.00,480.78 L110.20,478.27 L110.40,473.79 L110.60,466.76 L110.80,457.12 L111.00,445.79 L111.20,434.77 L111.40,426.64 L111.60,423.63 L111.80,426.64 L112.00,434.77 L112.20,445.79 L112.40,457.12 L112.60,466.76 L112.80,473.79 L113.00,478.27 L113.20,480.78 L113.40,482.02 L113.60,482.57 L113.80,482.79 L114.00,482.70 L114.20,482.42 L114.40,481.85 L114.60,480.83 L114.80,479.24 L115.00,477.05 L115.20,474.48 L115.40,471.98 L115.60,470.14 L115.80,469.46 L116.00,470.14 L116.20,471.98 L116.40,474.48 L116.60,477.05 L116.80,479.24 L117.00,480.83 L117.20,481.57 L117.40,480.99 L117.60,480.42 L117.80,480.00 L118.00,479.85 L118.20,480.00 L118.40,480.42 L118.60,480.99 L118.80,481.57 L119.00,482.07 L119.20,482.43 L119.40,482.66 L119.60,482.79 L119.80,482.85 L120.00,482.88 L120.20,482.89 L120.40,482.90 L120.60,482.90 L120.80,482.90 L121.00,482.90 L121.20,482.90 L121.40,482.90 L121.60,482.90 L121.80,482.90 L122.00,482.90 L122.20,482.90 L122.40,482.90 L122.60,482.90 L122.80,482.90 L123.00,482.90 L123.20,482.90 L123.40,482.90 L123.60,482.90 L123.80,482.90 L124.00,482.90 L124.20,482.90 L124.40,482.90 L124.60,482.90 L124.80,482.90 L125.00,482.90 L125.20,482.90 L125.40,482.90 L125.60,482.90 L125.80,482.90 L126.00,482.90 L126.20,482.90 L126.40,482.90 L126.60,482.90 L126.80,482.90 L127.00,482.90 L127.20,482.90 L127.40,482.90 L127.60,482.90 L127.80,482.90 L128.00,482.90 L128.20,482.90 L128.40,482.90 L128.60,482.90 L128.80,482.90 L129.00,482.90 L129.20,482.90 L129.40,482.90 L129.60,482.90 L129.80,482.90 L130.00,482.90 L130.20,482.90 L130.40,482.90 L130.60,482.90 L130.80,482.90 L131.00,482.90 L131.20,482.90 L131.40,482.90 L131.60,482.90 L131.80,482.90 L132.00,482.90 L132.20,482.90 L132.40,482.90 L132.60,482.90 L132.80,482.90 L133.00,482.90 L133.20,482.90 L133.40,482.90 L133.60,482.90 L133.80,482.90 L134.00,482.90 L134.20,482.90 L134.40,482.90 L134.60,482.90 L134.80,482.90 L135.00,482.90 L135.20,482.90 L135.40,482.90 L135.60,482.90 L135.80,482.90 L136.00,482.90 L136.20,482.90 L136.40,482.90 L136.60,482.90 L136.80,482.90 L137.00,482.90 L137.20,482.90 L137.40,482.90 L137.60,482.90 L137.80,482.90 L138.00,482.90 L138.20,482.90 L138.40,482.90 L138.60,482.90" fill="rgba(0,0,0,0.05)" stroke="#858585" stroke-width="0.85" stroke-linejoin="round"/>
<rect x="169.00" y="421.80" width="61.80" height="61.80" fill="none" stroke="#a8a8a8" stroke-width="0.6"/>
<line x1="169.00" y1="421.80" x2="169.00" y2="483.60" stroke="#9a9a9a" stroke-width="0.8"/>
<line x1="169.00" y1="483.60" x2="230.80" y2="483.60" stroke="#555" stroke-width="0.9"/>
<line x1="170.00" y1="483.30" x2="179.00" y2="483.30" stroke="#555" stroke-width="0.8"/>
<line x1="167.50" y1="483.60" x2="169.00" y2="483.60" stroke="#777" stroke-width="0.5"/>
<text x="166.7" y="484.70000000000005" font-size="2.9" text-anchor="end" fill="#444" >0</text>
<line x1="167.50" y1="468.15" x2="169.00" y2="468.15" stroke="#777" stroke-width="0.5"/>
<text x="166.7" y="469.25000000000006" font-size="2.9" text-anchor="end" fill="#444" >200</text>
<line x1="167.50" y1="452.70" x2="169.00" y2="452.70" stroke="#777" stroke-width="0.5"/>
<text x="166.7" y="453.80000000000007" font-size="2.9" text-anchor="end" fill="#444" >400</text>
<line x1="167.50" y1="437.25" x2="169.00" y2="437.25" stroke="#777" stroke-width="0.5"/>
<text x="166.7" y="438.35" font-size="2.9" text-anchor="end" fill="#444" >600</text>
<line x1="167.50" y1="421.80" x2="169.00" y2="421.80" stroke="#777" stroke-width="0.5"/>
<text x="166.7" y="422.90000000000003" font-size="2.9" text-anchor="end" fill="#444" >800</text>
<line x1="177.00" y1="483.60" x2="177.00" y2="485.10" stroke="#777" stroke-width="0.5"/>
<line x1="181.00" y1="483.60" x2="181.00" y2="485.10" stroke="#777" stroke-width="0.5"/>
<line x1="189.50" y1="483.60" x2="189.50" y2="485.10" stroke="#777" stroke-width="0.5"/>
<line x1="199.00" y1="483.60" x2="199.00" y2="485.10" stroke="#777" stroke-width="0.5"/>
<line x1="209.00" y1="483.60" x2="209.00" y2="485.10" stroke="#777" stroke-width="0.5"/>
<line x1="219.00" y1="483.60" x2="219.00" y2="485.10" stroke="#777" stroke-width="0.5"/>
<text x="176" y="488.6" font-size="2.8" text-anchor="middle" fill="#444" >0</text>
<text x="181" y="488.6" font-size="2.8" text-anchor="middle" fill="#444" >10²</text>
<text x="198.5" y="488.6" font-size="2.8" text-anchor="middle" fill="#444" >10³</text>
<text x="210.5" y="488.6" font-size="2.8" text-anchor="middle" fill="#444" >10⁴</text>
<text x="223.5" y="488.6" font-size="2.8" text-anchor="middle" fill="#444" >10⁵</text>
<path d="M169.80,482.90 L170.00,482.90 L170.20,482.90 L170.40,482.90 L170.60,482.90 L170.80,482.90 L171.00,482.90 L171.20,482.90 L171.40,482.90 L171.60,482.90 L171.80,482.90 L172.00,482.90 L172.20,482.90 L172.40,482.90 L172.60,482.90 L172.80,482.90 L173.00,482.90 L173.20,482.90 L173.40,482.90 L173.60,482.90 L173.80,482.90 L174.00,482.90 L174.20,482.90 L174.40,482.90 L174.60,482.90 L174.80,482.90 L175.00,482.90 L175.20,482.90 L175.40,482.90 L175.60,482.90 L175.80,482.90 L176.00,482.90 L176.20,482.90 L176.40,482.90 L176.60,482.90 L176.80,482.90 L177.00,482.90 L177.20,482.90 L177.40,482.90 L177.60,482.90 L177.80,482.90 L178.00,482.90 L178.20,482.90 L178.40,482.90 L178.60,482.90 L178.80,482.90 L179.00,482.90 L179.20,482.90 L179.40,482.90 L179.60,482.90 L179.80,482.90 L180.00,482.90 L180.20,482.90 L180.40,482.90 L180.60,482.90 L180.80,482.90 L181.00,482.90 L181.20,482.90 L181.40,482.90 L181.60,482.90 L181.80,482.90 L182.00,482.90 L182.20,482.90 L182.40,482.90 L182.60,482.90 L182.80,482.90 L183.00,482.90 L183.20,482.90 L183.40,482.90 L183.60,482.90 L183.80,482.90 L184.00,482.90 L184.20,482.90 L184.40,482.90 L184.60,482.90 L184.80,482.90 L185.00,482.90 L185.20,482.90 L185.40,482.90 L185.60,482.90 L185.80,482.90 L186.00,482.90 L186.20,482.90 L186.40,482.90 L186.60,482.90 L186.80,482.90 L187.00,482.90 L187.20,482.90 L187.40,482.90 L187.60,482.90 L187.80,482.90 L188.00,482.90 L188.20,482.90 L188.40,482.90 L188.60,482.90 L188.80,482.90 L189.00,482.90 L189.20,482.90 L189.40,482.90 L189.60,482.90 L189.80,482.90 L190.00,482.90 L190.20,482.90 L190.40,482.90 L190.60,482.90 L190.80,482.90 L191.00,482.90 L191.20,482.90 L191.40,482.90 L191.60,482.90 L191.80,482.90 L192.00,482.90 L192.20,482.90 L192.40,482.90 L192.60,482.90 L192.80,482.90 L193.00,482.90 L193.20,482.90 L193.40,482.90 L193.60,482.90 L193.80,482.90 L194.00,482.90 L194.20,482.90 L194.40,482.90 L194.60,482.90 L194.80,482.90 L195.00,482.90 L195.20,482.90 L195.40,482.90 L195.60,482.90 L195.80,482.90 L196.00,482.90 L196.20,482.90 L196.40,482.90 L196.60,482.90 L196.80,482.90 L197.00,482.90 L197.20,482.90 L197.40,482.90 L197.60,482.90 L197.80,482.90 L198.00,482.90 L198.20,482.90 L198.40,482.90 L198.60,482.90 L198.80,482.90 L199.00,482.90 L199.20,482.90 L199.40,482.90 L199.60,482.90 L199.80,482.90 L200.00,482.89 L200.20,482.88 L200.40,482.85 L200.60,482.79 L200.80,482.66 L201.00,482.43 L201.20,482.07 L201.40,481.57 L201.60,480.99 L201.80,480.42 L202.00,480.00 L202.20,479.85 L202.40,480.00 L202.60,480.42 L202.80,480.99 L203.00,481.57 L203.20,482.07 L203.40,482.43 L203.60,482.66 L203.80,482.73 L204.00,482.43 L204.20,481.76 L204.40,480.42 L204.60,478.02 L204.80,474.25 L205.00,469.08 L205.20,463.01 L205.40,457.10 L205.60,452.74 L205.80,451.13 L206.00,452.74 L206.20,457.10 L206.40,463.01 L206.60,469.08 L206.80,474.25 L207.00,478.02 L207.20,480.42 L207.40,481.76 L207.60,481.55 L207.80,479.79 L208.00,476.46 L208.20,470.87 L208.40,462.66 L208.60,452.21 L208.80,440.97 L209.00,431.27 L209.20,425.61 L209.40,425.61 L209.60,431.27 L209.80,440.97 L210.00,452.21 L210.20,462.66 L210.40,470.87 L210.60,476.46 L210.80,479.79 L211.00,481.55 L211.20,482.24 L211.40,481.47 L211.60,480.08 L211.80,477.91 L212.00,474.93 L212.20,471.42 L212.40,468.01 L212.60,465.50 L212.80,464.57 L213.00,465.50 L213.20,468.01 L213.40,471.42 L213.60,474.93 L213.80,477.91 L214.00,480.08 L214.20,481.47 L214.40,482.24 L214.60,482.63 L214.80,482.57 L215.00,482.22 L215.20,481.63 L215.40,480.77 L215.60,479.67 L215.80,478.49 L216.00,477.46 L216.20,476.87 L216.40,476.87 L216.60,477.46 L216.80,478.49 L217.00,479.67 L217.20,480.77 L217.40,481.63 L217.60,482.22 L217.80,482.57 L218.00,482.74 L218.20,482.56 L218.40,482.27 L218.60,481.83 L218.80,481.28 L219.00,480.69 L219.20,480.18 L219.40,479.88 L219.60,479.88 L219.80,480.18 L220.00,480.69 L220.20,481.28 L220.40,481.83 L220.60,482.27 L220.80,482.56 L221.00,482.74 L221.20,482.83 L221.40,482.87 L221.60,482.89 L221.80,482.90 L222.00,482.90 L222.20,482.90 L222.40,482.90 L222.60,482.90 L222.80,482.90 L223.00,482.90 L223.20,482.90 L223.40,482.90 L223.60,482.90 L223.80,482.90 L224.00,482.90 L224.20,482.90 L224.40,482.90 L224.60,482.90 L224.80,482.90 L225.00,482.90 L225.20,482.90 L225.40,482.90 L225.60,482.90 L225.80,482.90 L226.00,482.90 L226.20,482.90 L226.40,482.90 L226.60,482.90 L226.80,482.90 L227.00,482.90 L227.20,482.90 L227.40,482.90 L227.60,482.90 L227.80,482.90 L228.00,482.90 L228.20,482.90 L228.40,482.90 L228.60,482.90 L228.80,482.90 L229.00,482.90 L229.20,482.90 L229.40,482.90 L229.60,482.90 L229.80,482.90 L230.00,482.90" fill="rgba(0,0,0,0.05)" stroke="#858585" stroke-width="0.85" stroke-linejoin="round"/>
<ellipse cx="107.9" cy="226.3" rx="10" ry="25" fill="none" stroke="#c1272d" stroke-width="1.6"/>
<ellipse cx="205.5" cy="225.5" rx="9.5" ry="25.5" fill="none" stroke="#c1272d" stroke-width="1.6"/>
<ellipse cx="110.8" cy="446.3" rx="9.5" ry="25.2" fill="none" stroke="#c1272d" stroke-width="1.6"/>
<ellipse cx="210.3" cy="446.7" rx="9.8" ry="24.8" fill="none" stroke="#c1272d" stroke-width="1.6"/>
<text x="0" y="0" font-size="8.5" stroke="#000" stroke-width="0.12" text-anchor="middle" transform="translate(59.8,439.8) rotate(-90)" textLength="66" lengthAdjust="spacingAndGlyphs">Count (% of max)</text>
<path d="M57,499.8 L57,482 M56.1,499.8 L221,499.8" fill="none" stroke="#000" stroke-width="1.9"/>
<path d="M53.3,485.8 L57,477.9 L60.7,485.8 Z" fill="#000"/>
<path d="M217,496 L224.6,499.8 L217,503.6 Z" fill="#000"/>
<text x="89" y="509.8" font-size="8.5" font-weight="bold" stroke="#000" stroke-width="0.22" text-anchor="start" fill="#000" textLength="126" lengthAdjust="spacingAndGlyphs" >CellTrace Violet™ fluorescence</text>
<text x="119" y="521.8" font-size="8.5" font-weight="bold" stroke="#000" stroke-width="0.22" text-anchor="start" fill="#000" textLength="65.2" lengthAdjust="spacingAndGlyphs" >(PacBlue+ cells)</text>
<text x="249.4" y="228.5" font-size="10.5" font-weight="bold" stroke="#000" stroke-width="0.22" text-anchor="start" fill="#000" >D</text>
<defs>
<radialGradient id="gd" cx="50%" cy="50%" r="50%"><stop offset="0" stop-color="#2a1f78"/><stop offset="0.55" stop-color="#3b3096"/><stop offset="0.9" stop-color="#5f55b8"/><stop offset="1" stop-color="#8078cc"/></radialGradient>
<radialGradient id="gm" cx="50%" cy="50%" r="50%"><stop offset="0" stop-color="#45379a"/><stop offset="0.75" stop-color="#5e4fb0"/><stop offset="1" stop-color="#8a82ca"/></radialGradient>
<radialGradient id="gM" cx="50%" cy="50%" r="50%"><stop offset="0" stop-color="#6a52ae"/><stop offset="0.8" stop-color="#7d66ba"/><stop offset="1" stop-color="#9d8fd0"/></radialGradient>
<radialGradient id="gb" cx="50%" cy="50%" r="50%"><stop offset="0" stop-color="#3a2c8c"/><stop offset="0.8" stop-color="#4c3ca0"/><stop offset="1" stop-color="#7e72c0"/></radialGradient>
<radialGradient id="gl" cx="50%" cy="50%" r="50%"><stop offset="0" stop-color="#9c95d6"/><stop offset="0.8" stop-color="#aaa4dc"/><stop offset="1" stop-color="#c9c5ea"/></radialGradient>
<radialGradient id="gh" cx="50%" cy="50%" r="50%"><stop offset="0" stop-color="#3a2f90"/><stop offset="0.5" stop-color="#6f66c0"/><stop offset="1" stop-color="#c4bfe8"/></radialGradient>
<radialGradient id="gL" cx="50%" cy="50%" r="50%"><stop offset="0" stop-color="#a9a2de" stop-opacity="1"/><stop offset="0.75" stop-color="#b8b2e6" stop-opacity="0.85"/><stop offset="1" stop-color="#d0ccf0" stop-opacity="0"/></radialGradient>
<radialGradient id="gP" cx="50%" cy="50%" r="50%"><stop offset="0" stop-color="#4a2f8e"/><stop offset="0.75" stop-color="#6448a8"/><stop offset="1" stop-color="#8f7cc6"/></radialGradient>
<radialGradient id="gp" cx="50%" cy="50%" r="50%"><stop offset="0" stop-color="#b58bbb"/><stop offset="1" stop-color="#e2cde3"/></radialGradient>
</defs>
<text x="309.3" y="238" font-size="10" stroke="#000" stroke-width="0.15" text-anchor="middle" fill="#000" >DMSO</text>
<rect x="249.80" y="242.80" width="131.70" height="98.20" fill="#fcfbfb"/>
<circle cx="284.3" cy="245.9" r="3.84" fill="url(#gd)" stroke="#b9b2ec" stroke-width="0.5"/>
<circle cx="290.8" cy="247.9" r="3.84" fill="url(#gd)" stroke="#b9b2ec" stroke-width="0.5"/>
<circle cx="297.4" cy="249.8" r="3.60" fill="url(#gd)" stroke="#b9b2ec" stroke-width="0.5"/>
<circle cx="279.1" cy="251.2" r="3.84" fill="url(#gd)" stroke="#b9b2ec" stroke-width="0.5"/>
<circle cx="286.3" cy="254.4" r="3.84" fill="url(#gd)" stroke="#b9b2ec" stroke-width="0.5"/>
<circle cx="292.2" cy="256.4" r="3.60" fill="url(#gd)" stroke="#b9b2ec" stroke-width="0.5"/>
<circle cx="274.5" cy="255.7" r="3.84" fill="url(#gd)" stroke="#b9b2ec" stroke-width="0.5"/>
<circle cx="281.0" cy="258.3" r="3.84" fill="url(#gd)" stroke="#b9b2ec" stroke-width="0.5"/>
<circle cx="286.9" cy="261.6" r="3.96" fill="url(#gd)" stroke="#b9b2ec" stroke-width="0.5"/>
<circle cx="270.6" cy="259.0" r="3.60" fill="url(#gd)" stroke="#b9b2ec" stroke-width="0.5"/>
<circle cx="276.5" cy="262.3" r="3.84" fill="url(#gd)" stroke="#b9b2ec" stroke-width="0.5"/>
<circle cx="282.3" cy="265.5" r="3.84" fill="url(#gd)" stroke="#b9b2ec" stroke-width="0.5"/>
<circle cx="269.9" cy="263.6" r="3.60" fill="url(#gd)" stroke="#b9b2ec" stroke-width="0.5"/>
<circle cx="273.2" cy="268.2" r="3.84" fill="url(#gd)" stroke="#b9b2ec" stroke-width="0.5"/>
<circle cx="279.1" cy="268.8" r="3.96" fill="url(#gd)" stroke="#b9b2ec" stroke-width="0.5"/>
<circle cx="289.5" cy="269.5" r="3.96" fill="url(#gd)" stroke="#b9b2ec" stroke-width="0.5"/>
<circle cx="266.7" cy="273.4" r="3.96" fill="url(#gd)" stroke="#b9b2ec" stroke-width="0.5"/>
<circle cx="272.5" cy="274.0" r="3.96" fill="url(#gd)" stroke="#b9b2ec" stroke-width="0.5"/>
<circle cx="280.4" cy="273.4" r="4.08" fill="url(#gd)" stroke="#b9b2ec" stroke-width="0.5"/>
<circle cx="286.3" cy="274.7" r="3.96" fill="url(#gd)" stroke="#b9b2ec" stroke-width="0.5"/>
<circle cx="291.5" cy="277.3" r="3.84" fill="url(#gd)" stroke="#b9b2ec" stroke-width="0.5"/>
<circle cx="261.4" cy="277.3" r="3.96" fill="url(#gd)" stroke="#b9b2ec" stroke-width="0.5"/>
<circle cx="268.6" cy="281.2" r="3.96" fill="url(#gd)" stroke="#b9b2ec" stroke-width="0.5"/>
<circle cx="275.2" cy="282.5" r="3.96" fill="url(#gd)" stroke="#b9b2ec" stroke-width="0.5"/>
<circle cx="281.0" cy="283.8" r="3.96" fill="url(#gd)" stroke="#b9b2ec" stroke-width="0.5"/>
<circle cx="288.2" cy="283.8" r="3.84" fill="url(#gd)" stroke="#b9b2ec" stroke-width="0.5"/>
<circle cx="263.0" cy="268.0" r="3.60" fill="url(#gd)" stroke="#b9b2ec" stroke-width="0.5"/>
<circle cx="276.0" cy="278.0" r="3.60" fill="url(#gd)" stroke="#b9b2ec" stroke-width="0.5"/>
<circle cx="283.0" cy="279.0" r="3.60" fill="url(#gd)" stroke="#b9b2ec" stroke-width="0.5"/>
<circle cx="338.2" cy="264.9" r="6.83" fill="url(#gP)"/>
<circle cx="337.62" cy="262.20" r="0.51" fill="#a892d6"/>
<circle cx="338.75" cy="266.67" r="0.52" fill="#5a3c9a"/>
<circle cx="338.06" cy="268.17" r="0.38" fill="#5a3c9a"/>
<circle cx="338.67" cy="266.87" r="0.48" fill="#3a2278"/>
<circle cx="334.80" cy="260.75" r="0.43" fill="#c8b8ea"/>
<circle cx="335.21" cy="260.02" r="0.31" fill="#5a3c9a"/>
<circle cx="338.07" cy="269.77" r="0.33" fill="#a892d6"/>
<circle cx="339.41" cy="261.10" r="0.39" fill="#c8b8ea"/>
<circle cx="338.49" cy="262.28" r="0.42" fill="#c8b8ea"/>
<circle cx="337.18" cy="266.35" r="0.62" fill="#a892d6"/>
<circle cx="340.61" cy="267.15" r="0.32" fill="#3a2278"/>
<circle cx="336.05" cy="262.54" r="0.46" fill="#3a2278"/>
<circle cx="342.57" cy="265.64" r="0.47" fill="#3a2278"/>
<circle cx="338.09" cy="265.35" r="0.53" fill="#5a3c9a"/>
<circle cx="334.42" cy="265.06" r="0.53" fill="#5a3c9a"/>
<circle cx="336.78" cy="263.77" r="0.42" fill="#c8b8ea"/>
<circle cx="342.25" cy="266.31" r="0.50" fill="#5a3c9a"/>
<circle cx="334.92" cy="260.84" r="0.40" fill="#5a3c9a"/>
<circle cx="337.85" cy="259.20" r="0.32" fill="#a892d6"/>
<circle cx="342.44" cy="267.80" r="0.46" fill="#5a3c9a"/>
<circle cx="343.76" cy="265.74" r="0.36" fill="#c8b8ea"/>
<circle cx="336.62" cy="266.93" r="0.51" fill="#5a3c9a"/>
<circle cx="335.44" cy="260.79" r="0.61" fill="#a892d6"/>
<circle cx="335.64" cy="261.15" r="0.43" fill="#3a2278"/>
<circle cx="333.58" cy="262.08" r="0.33" fill="#3a2278"/>
<circle cx="338.79" cy="266.00" r="0.45" fill="#5a3c9a"/>
<circle cx="339.60" cy="266.96" r="0.57" fill="#3a2278"/>
<circle cx="339.42" cy="262.33" r="0.56" fill="#3a2278"/>
<circle cx="336.45" cy="269.19" r="0.58" fill="#a892d6"/>
<circle cx="343.50" cy="264.36" r="0.46" fill="#5a3c9a"/>
<circle cx="336.18" cy="260.84" r="0.39" fill="#c8b8ea"/>
<circle cx="339.03" cy="270.20" r="0.43" fill="#3a2278"/>
<circle cx="332.50" cy="264.13" r="0.48" fill="#5a3c9a"/>
<circle cx="340.80" cy="265.34" r="0.42" fill="#c8b8ea"/>
<circle cx="337.29" cy="269.17" r="0.56" fill="#a892d6"/>
<circle cx="339.87" cy="265.43" r="0.64" fill="#a892d6"/>
<circle cx="337.31" cy="266.56" r="0.51" fill="#a892d6"/>
<circle cx="337.53" cy="261.50" r="0.56" fill="#c8b8ea"/>
<circle cx="352.6" cy="259.0" r="4.32" fill="url(#gd)" stroke="#b9b2ec" stroke-width="0.5"/>
<circle cx="358.5" cy="255.1" r="4.32" fill="url(#gd)" stroke="#b9b2ec" stroke-width="0.5"/>
<circle cx="371.5" cy="259.0" r="4.20" fill="url(#gd)" stroke="#b9b2ec" stroke-width="0.5"/>
<circle cx="371.5" cy="268.8" r="4.32" fill="url(#gd)" stroke="#b9b2ec" stroke-width="0.5"/>
<circle cx="338.8" cy="283.2" r="4.32" fill="url(#gd)" stroke="#b9b2ec" stroke-width="0.5"/>
<circle cx="344.7" cy="279.9" r="4.68" fill="url(#gd)" stroke="#b9b2ec" stroke-width="0.5"/>
<circle cx="350.0" cy="284.5" r="3.84" fill="url(#gd)" stroke="#b9b2ec" stroke-width="0.5"/>
<circle cx="357.8" cy="278.6" r="3.48" fill="url(#gd)" stroke="#b9b2ec" stroke-width="0.5"/>
<circle cx="269.3" cy="299.2" r="3.96" fill="url(#gd)" stroke="#b9b2ec" stroke-width="0.5"/>
<circle cx="310.5" cy="301.0" r="4.32" fill="url(#gd)" stroke="#b9b2ec" stroke-width="0.5"/>
<circle cx="310.5" cy="305.0" r="3.60" fill="url(#gd)" stroke="#b9b2ec" stroke-width="0.5"/>
<circle cx="253.6" cy="319.4" r="2.6" fill="url(#gp)"/>
<circle cx="261.4" cy="324.7" r="5.04" fill="url(#gd)" stroke="#b9b2ec" stroke-width="0.5"/>
<circle cx="269.3" cy="321.4" r="4.68" fill="url(#gd)" stroke="#b9b2ec" stroke-width="0.5"/>
<circle cx="276.5" cy="320.1" r="3.96" fill="url(#gd)" stroke="#b9b2ec" stroke-width="0.5"/>
<circle cx="283.0" cy="324.7" r="6.00" fill="url(#gd)" stroke="#b9b2ec" stroke-width="0.5"/>
<circle cx="289.5" cy="318.1" r="4.44" fill="url(#gd)" stroke="#b9b2ec" stroke-width="0.5"/>
<circle cx="296.7" cy="320.7" r="4.44" fill="url(#gd)" stroke="#b9b2ec" stroke-width="0.5"/>
<circle cx="268.6" cy="330.5" r="3.96" fill="url(#gd)" stroke="#b9b2ec" stroke-width="0.5"/>
<circle cx="274.5" cy="333.2" r="3.96" fill="url(#gd)" stroke="#b9b2ec" stroke-width="0.5"/>
<circle cx="279.7" cy="334.5" r="3.96" fill="url(#gd)" stroke="#b9b2ec" stroke-width="0.5"/>
<circle cx="284.3" cy="333.8" r="3.48" fill="url(#gd)" stroke="#b9b2ec" stroke-width="0.5"/>
<circle cx="290.2" cy="325.3" r="3.96" fill="url(#gd)" stroke="#b9b2ec" stroke-width="0.5"/>
<circle cx="297.4" cy="327.9" r="3.96" fill="url(#gd)" stroke="#b9b2ec" stroke-width="0.5"/>
<circle cx="289.5" cy="333.2" r="3.96" fill="url(#gd)" stroke="#b9b2ec" stroke-width="0.5"/>
<circle cx="295.4" cy="333.8" r="3.96" fill="url(#gd)" stroke="#b9b2ec" stroke-width="0.5"/>
<circle cx="276.0" cy="327.0" r="3.84" fill="url(#gd)" stroke="#b9b2ec" stroke-width="0.5"/>
<circle cx="322.5" cy="314.2" r="4.44" fill="url(#gd)" stroke="#b9b2ec" stroke-width="0.5"/>
<circle cx="328.4" cy="310.3" r="3.96" fill="url(#gd)" stroke="#b9b2ec" stroke-width="0.5"/>
<circle cx="332.3" cy="314.2" r="3.96" fill="url(#gd)" stroke="#b9b2ec" stroke-width="0.5"/>
<circle cx="338.8" cy="309.6" r="3.48" fill="url(#gd)" stroke="#b9b2ec" stroke-width="0.5"/>
<circle cx="353.2" cy="299.8" r="4.44" fill="url(#gd)" stroke="#b9b2ec" stroke-width="0.5"/>
<circle cx="350.0" cy="307.0" r="5.52" fill="url(#gd)" stroke="#b9b2ec" stroke-width="0.5"/>
<circle cx="346.0" cy="317.5" r="4.68" fill="url(#gd)" stroke="#b9b2ec" stroke-width="0.5"/>
<circle cx="353.9" cy="315.5" r="4.44" fill="url(#gd)" stroke="#b9b2ec" stroke-width="0.5"/>
<circle cx="351.3" cy="324.0" r="3.96" fill="url(#gd)" stroke="#b9b2ec" stroke-width="0.5"/>
<circle cx="359.8" cy="321.4" r="4.08" fill="url(#gd)" stroke="#b9b2ec" stroke-width="0.5"/>
<circle cx="361.7" cy="329.2" r="3.96" fill="url(#gd)" stroke="#b9b2ec" stroke-width="0.5"/>
<circle cx="358.5" cy="336.4" r="3.48" fill="url(#gd)" stroke="#b9b2ec" stroke-width="0.5"/>
<circle cx="367.6" cy="318.1" r="3.96" fill="url(#gd)" stroke="#b9b2ec" stroke-width="0.5"/>
<circle cx="367.6" cy="324.7" r="3.96" fill="url(#gd)" stroke="#b9b2ec" stroke-width="0.5"/>
<circle cx="373.5" cy="314.2" r="3.48" fill="url(#gd)" stroke="#b9b2ec" stroke-width="0.5"/>
<circle cx="374.8" cy="320.7" r="3.72" fill="url(#gd)" stroke="#b9b2ec" stroke-width="0.5"/>
<circle cx="378.7" cy="315.5" r="3.48" fill="url(#gd)" stroke="#b9b2ec" stroke-width="0.5"/>
<rect x="249.80" y="242.80" width="131.70" height="98.20" fill="none" stroke="#000" stroke-width="2"/>
<rect x="313.90" y="242.80" width="5.40" height="98.20" fill="#fdfbff"/>
<rect x="249.80" y="290.40" width="131.70" height="2.90" fill="#fdfbff"/>
<rect x="250.80" y="243.80" width="63.10" height="46.60" fill="none" stroke="#5d4f72" stroke-width="0.8"/>
<rect x="250.80" y="293.30" width="63.10" height="46.70" fill="none" stroke="#5d4f72" stroke-width="0.8"/>
<rect x="319.30" y="243.80" width="61.20" height="46.60" fill="none" stroke="#5d4f72" stroke-width="0.8"/>
<rect x="319.30" y="293.30" width="61.20" height="46.70" fill="none" stroke="#5d4f72" stroke-width="0.8"/>
<text x="448" y="239.4" font-size="10" stroke="#000" stroke-width="0.15" text-anchor="middle" fill="#000" >0.05μM RGFP966</text>
<rect x="386.40" y="242.50" width="132.10" height="98.00" fill="#fcfbfb"/>
<circle cx="404.3" cy="272.1" r="9.66" fill="url(#gP)"/>
<circle cx="407.42" cy="270.27" r="0.46" fill="#c8b8ea"/>
<circle cx="407.00" cy="270.94" r="0.59" fill="#a892d6"/>
<circle cx="408.64" cy="277.82" r="0.53" fill="#3a2278"/>
<circle cx="411.89" cy="273.22" r="0.42" fill="#3a2278"/>
<circle cx="402.16" cy="264.59" r="0.49" fill="#3a2278"/>
<circle cx="396.80" cy="272.93" r="0.42" fill="#a892d6"/>
<circle cx="410.20" cy="269.99" r="0.62" fill="#a892d6"/>
<circle cx="397.08" cy="275.52" r="0.49" fill="#a892d6"/>
<circle cx="400.42" cy="276.21" r="0.56" fill="#c8b8ea"/>
<circle cx="402.68" cy="271.06" r="0.49" fill="#a892d6"/>
<circle cx="408.14" cy="269.45" r="0.37" fill="#5a3c9a"/>
<circle cx="403.07" cy="272.48" r="0.43" fill="#c8b8ea"/>
<circle cx="402.56" cy="265.63" r="0.59" fill="#5a3c9a"/>
<circle cx="406.77" cy="269.42" r="0.49" fill="#c8b8ea"/>
<circle cx="399.51" cy="267.82" r="0.32" fill="#3a2278"/>
<circle cx="410.20" cy="270.73" r="0.49" fill="#c8b8ea"/>
<circle cx="410.11" cy="273.60" r="0.56" fill="#3a2278"/>
<circle cx="404.77" cy="272.71" r="0.45" fill="#a892d6"/>
<circle cx="400.63" cy="268.96" r="0.50" fill="#3a2278"/>
<circle cx="411.97" cy="271.87" r="0.60" fill="#c8b8ea"/>
<circle cx="405.87" cy="268.75" r="0.40" fill="#c8b8ea"/>
<circle cx="402.12" cy="266.03" r="0.52" fill="#a892d6"/>
<circle cx="396.71" cy="270.71" r="0.52" fill="#c8b8ea"/>
<circle cx="409.13" cy="270.22" r="0.41" fill="#c8b8ea"/>
<circle cx="401.33" cy="268.41" r="0.35" fill="#3a2278"/>
<circle cx="403.79" cy="278.46" r="0.33" fill="#a892d6"/>
<circle cx="401.46" cy="270.08" r="0.35" fill="#3a2278"/>
<circle cx="408.82" cy="270.45" r="0.54" fill="#a892d6"/>
<circle cx="399.10" cy="268.04" r="0.38" fill="#3a2278"/>
<circle cx="401.20" cy="278.09" r="0.33" fill="#c8b8ea"/>
<circle cx="408.35" cy="270.32" r="0.31" fill="#5a3c9a"/>
<circle cx="399.65" cy="277.15" r="0.46" fill="#a892d6"/>
<circle cx="400.79" cy="272.86" r="0.57" fill="#3a2278"/>
<circle cx="397.08" cy="272.37" r="0.36" fill="#c8b8ea"/>
<circle cx="402.36" cy="274.43" r="0.57" fill="#5a3c9a"/>
<circle cx="406.25" cy="264.72" r="0.30" fill="#3a2278"/>
<circle cx="401.93" cy="275.81" r="0.37" fill="#a892d6"/>
<circle cx="405.63" cy="274.28" r="0.36" fill="#5a3c9a"/>
<circle cx="396.20" cy="272.93" r="0.43" fill="#5a3c9a"/>
<circle cx="405.33" cy="270.69" r="0.52" fill="#3a2278"/>
<circle cx="397.90" cy="269.56" r="0.61" fill="#c8b8ea"/>
<circle cx="405.61" cy="267.91" r="0.56" fill="#5a3c9a"/>
<circle cx="402.74" cy="265.75" r="0.38" fill="#5a3c9a"/>
<circle cx="405.48" cy="271.02" r="0.53" fill="#c8b8ea"/>
<circle cx="401.09" cy="279.08" r="0.44" fill="#c8b8ea"/>
<circle cx="410.25" cy="270.87" r="0.55" fill="#3a2278"/>
<circle cx="397.74" cy="275.86" r="0.59" fill="#c8b8ea"/>
<circle cx="402.29" cy="279.54" r="0.57" fill="#3a2278"/>
<circle cx="401.91" cy="268.36" r="0.46" fill="#5a3c9a"/>
<circle cx="405.95" cy="278.73" r="0.60" fill="#a892d6"/>
<circle cx="404.42" cy="268.11" r="0.63" fill="#a892d6"/>
<circle cx="401.23" cy="274.19" r="0.38" fill="#a892d6"/>
<circle cx="401.32" cy="269.92" r="0.64" fill="#a892d6"/>
<circle cx="406.00" cy="277.96" r="0.30" fill="#5a3c9a"/>
<circle cx="403.66" cy="273.98" r="0.61" fill="#5a3c9a"/>
<circle cx="406.40" cy="268.77" r="0.40" fill="#3a2278"/>
<circle cx="397.22" cy="271.97" r="0.57" fill="#c8b8ea"/>
<circle cx="407.00" cy="274.56" r="0.55" fill="#5a3c9a"/>
<circle cx="406.67" cy="272.22" r="0.58" fill="#3a2278"/>
<circle cx="404.22" cy="271.97" r="0.54" fill="#3a2278"/>
<circle cx="399.80" cy="270.22" r="0.65" fill="#3a2278"/>
<circle cx="409.71" cy="276.63" r="0.49" fill="#c8b8ea"/>
<circle cx="402.91" cy="274.26" r="0.42" fill="#3a2278"/>
<circle cx="406.45" cy="279.12" r="0.50" fill="#c8b8ea"/>
<circle cx="410.94" cy="269.06" r="0.38" fill="#3a2278"/>
<circle cx="404.12" cy="279.26" r="0.34" fill="#5a3c9a"/>
<circle cx="404.63" cy="269.47" r="0.44" fill="#5a3c9a"/>
<circle cx="406.76" cy="268.92" r="0.32" fill="#3a2278"/>
<circle cx="406.15" cy="278.50" r="0.51" fill="#5a3c9a"/>
<circle cx="404.99" cy="267.33" r="0.41" fill="#a892d6"/>
<circle cx="403.19" cy="276.74" r="0.57" fill="#a892d6"/>
<circle cx="402.89" cy="275.08" r="0.44" fill="#3a2278"/>
<circle cx="405.08" cy="264.26" r="0.31" fill="#5a3c9a"/>
<circle cx="398.82" cy="277.77" r="0.52" fill="#5a3c9a"/>
<circle cx="405.00" cy="265.67" r="0.52" fill="#5a3c9a"/>
<circle cx="407.98" cy="266.33" r="0.47" fill="#a892d6"/>
<circle cx="393.8" cy="276.7" r="3.19" fill="url(#gd)" stroke="#b9b2ec" stroke-width="0.5"/>
<circle cx="389.9" cy="266.2" r="2.86" fill="url(#gd)" stroke="#b9b2ec" stroke-width="0.5"/>
<circle cx="389.3" cy="276.7" r="2.20" fill="url(#gd)" stroke="#b9b2ec" stroke-width="0.5"/>
<circle cx="421.3" cy="257.7" r="4.07" fill="url(#gd)" stroke="#b9b2ec" stroke-width="0.5"/>
<circle cx="425.9" cy="252.5" r="2.17" fill="#d8d2ee" stroke="#2e2580" stroke-width="1.45"/>
<circle cx="414.1" cy="255.1" r="1.0" fill="#221a60"/>
<circle cx="437.7" cy="248.5" r="3.63" fill="url(#gd)" stroke="#b9b2ec" stroke-width="0.5"/>
<circle cx="440.3" cy="258.3" r="2.0" fill="#221a60"/>
<circle cx="448.1" cy="255.7" r="3.19" fill="url(#gd)" stroke="#b9b2ec" stroke-width="0.5"/>
<circle cx="447.5" cy="265.5" r="3.19" fill="url(#gd)" stroke="#b9b2ec" stroke-width="0.5"/>
<circle cx="431.1" cy="268.8" r="3.63" fill="url(#gd)" stroke="#b9b2ec" stroke-width="0.5"/>
<circle cx="422.6" cy="279.3" r="2.47" fill="#d8d2ee" stroke="#2e2580" stroke-width="1.65"/>
<circle cx="442.2" cy="281.2" r="3.41" fill="url(#gd)" stroke="#b9b2ec" stroke-width="0.5"/>
<circle cx="397.1" cy="245.3" r="2.0" fill="url(#gl)"/>
<circle cx="473.2" cy="257.7" r="6.20" fill="url(#gP)"/>
<circle cx="472.54" cy="254.62" r="0.37" fill="#5a3c9a"/>
<circle cx="470.62" cy="256.34" r="0.49" fill="#3a2278"/>
<circle cx="473.53" cy="258.23" r="0.30" fill="#3a2278"/>
<circle cx="477.58" cy="257.81" r="0.33" fill="#3a2278"/>
<circle cx="468.68" cy="259.57" r="0.43" fill="#3a2278"/>
<circle cx="473.84" cy="252.92" r="0.34" fill="#3a2278"/>
<circle cx="475.50" cy="262.21" r="0.54" fill="#5a3c9a"/>
<circle cx="470.01" cy="261.36" r="0.35" fill="#5a3c9a"/>
<circle cx="470.04" cy="258.64" r="0.38" fill="#a892d6"/>
<circle cx="469.53" cy="260.73" r="0.58" fill="#5a3c9a"/>
<circle cx="473.53" cy="259.31" r="0.49" fill="#5a3c9a"/>
<circle cx="475.70" cy="259.27" r="0.50" fill="#c8b8ea"/>
<circle cx="469.29" cy="260.79" r="0.56" fill="#3a2278"/>
<circle cx="471.52" cy="254.93" r="0.65" fill="#a892d6"/>
<circle cx="472.50" cy="262.00" r="0.64" fill="#a892d6"/>
<circle cx="474.20" cy="258.46" r="0.64" fill="#a892d6"/>
<circle cx="472.06" cy="259.24" r="0.36" fill="#5a3c9a"/>
<circle cx="470.13" cy="257.36" r="0.60" fill="#5a3c9a"/>
<circle cx="474.47" cy="254.27" r="0.42" fill="#a892d6"/>
<circle cx="472.21" cy="259.77" r="0.35" fill="#3a2278"/>
<circle cx="471.26" cy="262.05" r="0.45" fill="#5a3c9a"/>
<circle cx="475.76" cy="254.17" r="0.65" fill="#a892d6"/>
<circle cx="469.12" cy="254.51" r="0.44" fill="#a892d6"/>
<circle cx="475.18" cy="253.36" r="0.45" fill="#5a3c9a"/>
<circle cx="476.96" cy="258.94" r="0.56" fill="#a892d6"/>
<circle cx="476.57" cy="256.06" r="0.64" fill="#c8b8ea"/>
<circle cx="473.70" cy="252.75" r="0.42" fill="#c8b8ea"/>
<circle cx="473.67" cy="257.35" r="0.44" fill="#a892d6"/>
<circle cx="474.41" cy="259.72" r="0.33" fill="#a892d6"/>
<circle cx="476.97" cy="259.17" r="0.42" fill="#5a3c9a"/>
<circle cx="472.67" cy="260.18" r="0.34" fill="#3a2278"/>
<circle cx="475.2" cy="266.2" r="2.86" fill="url(#gd)" stroke="#b9b2ec" stroke-width="0.5"/>
<circle cx="467.3" cy="271.4" r="3.19" fill="url(#gd)" stroke="#b9b2ec" stroke-width="0.5"/>
<circle cx="488.9" cy="264.2" r="3.9" fill="url(#gh)"/>
<circle cx="490.9" cy="247.9" r="4.07" fill="url(#gd)" stroke="#b9b2ec" stroke-width="0.5"/>
<circle cx="499.4" cy="247.9" r="4.07" fill="url(#gd)" stroke="#b9b2ec" stroke-width="0.5"/>
<circle cx="463.4" cy="279.3" r="2.64" fill="url(#gd)" stroke="#b9b2ec" stroke-width="0.5"/>
<circle cx="464.7" cy="284.5" r="1.80" fill="#d8d2ee" stroke="#2e2580" stroke-width="1.20"/>
<circle cx="481.1" cy="279.9" r="3.3" fill="url(#gp)"/>
<circle cx="481.1" cy="287.1" r="3.19" fill="url(#gd)" stroke="#b9b2ec" stroke-width="0.5"/>
<circle cx="500.0" cy="279.3" r="2.64" fill="url(#gd)" stroke="#b9b2ec" stroke-width="0.5"/>
<circle cx="505.9" cy="279.3" r="1.80" fill="#d8d2ee" stroke="#2e2580" stroke-width="1.20"/>
<circle cx="503.3" cy="283.2" r="1.76" fill="url(#gd)" stroke="#b9b2ec" stroke-width="0.5"/>
<circle cx="513.8" cy="278.6" r="2.64" fill="url(#gd)" stroke="#b9b2ec" stroke-width="0.5"/>
<circle cx="421.3" cy="314.2" r="9.8" fill="url(#gl)"/>
<circle cx="423.3" cy="320.7" r="3.63" fill="url(#gd)" stroke="#b9b2ec" stroke-width="0.5"/>
<circle cx="405.6" cy="303.1" r="4.83" fill="url(#gm)"/>
<circle cx="403.62" cy="304.43" r="0.52" fill="#6b5cb8"/>
<circle cx="408.11" cy="305.25" r="0.60" fill="#6b5cb8"/>
<circle cx="408.54" cy="303.20" r="0.64" fill="#8d82d0"/>
<circle cx="403.19" cy="304.94" r="0.40" fill="#6b5cb8"/>
<circle cx="405.17" cy="306.11" r="0.62" fill="#b0a8e0"/>
<circle cx="404.19" cy="300.45" r="0.64" fill="#8d82d0"/>
<circle cx="402.43" cy="302.75" r="0.51" fill="#8d82d0"/>
<circle cx="403.30" cy="305.38" r="0.54" fill="#b0a8e0"/>
<circle cx="401.79" cy="302.62" r="0.43" fill="#2a1f78"/>
<circle cx="404.43" cy="302.51" r="0.49" fill="#2a1f78"/>
<circle cx="403.98" cy="302.14" r="0.35" fill="#b0a8e0"/>
<circle cx="406.16" cy="300.66" r="0.45" fill="#2a1f78"/>
<circle cx="408.85" cy="302.08" r="0.32" fill="#2a1f78"/>
<circle cx="404.20" cy="306.86" r="0.32" fill="#b0a8e0"/>
<circle cx="402.49" cy="302.34" r="0.56" fill="#6b5cb8"/>
<circle cx="404.96" cy="304.29" r="0.64" fill="#2a1f78"/>
<circle cx="404.93" cy="300.98" r="0.40" fill="#8d82d0"/>
<circle cx="402.71" cy="302.69" r="0.57" fill="#8d82d0"/>
<circle cx="403.50" cy="306.19" r="0.47" fill="#b0a8e0"/>
<circle cx="408.9" cy="305.7" r="2.0" fill="#221a60"/>
<circle cx="400.4" cy="316.8" r="2.86" fill="url(#gd)" stroke="#b9b2ec" stroke-width="0.5"/>
<circle cx="394.5" cy="323.3" r="2.86" fill="url(#gd)" stroke="#b9b2ec" stroke-width="0.5"/>
<circle cx="405.0" cy="322.7" r="1.80" fill="#d8d2ee" stroke="#2e2580" stroke-width="1.20"/>
<circle cx="400.4" cy="327.9" r="2.86" fill="url(#gd)" stroke="#b9b2ec" stroke-width="0.5"/>
<circle cx="407.6" cy="327.3" r="2.86" fill="url(#gd)" stroke="#b9b2ec" stroke-width="0.5"/>
<circle cx="404.3" cy="331.8" r="1.80" fill="#d8d2ee" stroke="#2e2580" stroke-width="1.20"/>
<circle cx="398.4" cy="335.8" r="3.63" fill="url(#gd)" stroke="#b9b2ec" stroke-width="0.5"/>
<circle cx="399.7" cy="331.8" r="2.20" fill="url(#gd)" stroke="#b9b2ec" stroke-width="0.5"/>
<circle cx="413.5" cy="335.8" r="3.46" fill="url(#gm)"/>
<circle cx="413.36" cy="338.35" r="0.55" fill="#8d82d0"/>
<circle cx="414.89" cy="335.41" r="0.41" fill="#2a1f78"/>
<circle cx="415.37" cy="334.89" r="0.40" fill="#b0a8e0"/>
<circle cx="413.01" cy="333.37" r="0.45" fill="#8d82d0"/>
<circle cx="412.56" cy="335.33" r="0.34" fill="#b0a8e0"/>
<circle cx="414.08" cy="335.10" r="0.61" fill="#8d82d0"/>
<circle cx="411.65" cy="335.80" r="0.46" fill="#8d82d0"/>
<circle cx="411.83" cy="336.11" r="0.53" fill="#b0a8e0"/>
<circle cx="412.68" cy="334.53" r="0.65" fill="#2a1f78"/>
<circle cx="435.7" cy="327.3" r="3.19" fill="url(#gd)" stroke="#b9b2ec" stroke-width="0.5"/>
<circle cx="438.3" cy="324.7" r="2.64" fill="url(#gd)" stroke="#b9b2ec" stroke-width="0.5"/>
<circle cx="439.6" cy="329.9" r="2.64" fill="url(#gd)" stroke="#b9b2ec" stroke-width="0.5"/>
<circle cx="443.5" cy="326.0" r="2.9" fill="url(#gl)"/>
<circle cx="447.5" cy="321.4" r="3.63" fill="url(#gd)" stroke="#b9b2ec" stroke-width="0.5"/>
<circle cx="446.8" cy="294.6" r="2.20" fill="url(#gd)" stroke="#b9b2ec" stroke-width="0.5"/>
<circle cx="457.5" cy="296.5" r="2.64" fill="url(#gd)" stroke="#b9b2ec" stroke-width="0.5"/>
<circle cx="483.0" cy="295.2" r="2.64" fill="url(#gd)" stroke="#b9b2ec" stroke-width="0.5"/>
<circle cx="473.2" cy="303.1" r="2.64" fill="url(#gd)" stroke="#b9b2ec" stroke-width="0.5"/>
<circle cx="476.5" cy="308.3" r="4.83" fill="url(#gm)"/>
<circle cx="480.19" cy="309.96" r="0.46" fill="#b0a8e0"/>
<circle cx="474.28" cy="311.18" r="0.64" fill="#8d82d0"/>
<circle cx="477.04" cy="310.83" r="0.48" fill="#8d82d0"/>
<circle cx="476.03" cy="308.63" r="0.47" fill="#8d82d0"/>
<circle cx="474.62" cy="307.79" r="0.51" fill="#8d82d0"/>
<circle cx="479.17" cy="311.09" r="0.46" fill="#2a1f78"/>
<circle cx="477.86" cy="309.77" r="0.38" fill="#2a1f78"/>
<circle cx="478.56" cy="307.86" r="0.53" fill="#b0a8e0"/>
<circle cx="474.30" cy="305.51" r="0.44" fill="#b0a8e0"/>
<circle cx="474.91" cy="309.72" r="0.54" fill="#6b5cb8"/>
<circle cx="475.81" cy="306.13" r="0.56" fill="#b0a8e0"/>
<circle cx="476.14" cy="311.24" r="0.61" fill="#8d82d0"/>
<circle cx="478.92" cy="311.59" r="0.30" fill="#6b5cb8"/>
<circle cx="472.83" cy="307.09" r="0.52" fill="#8d82d0"/>
<circle cx="472.92" cy="310.05" r="0.49" fill="#6b5cb8"/>
<circle cx="473.93" cy="307.35" r="0.34" fill="#2a1f78"/>
<circle cx="479.10" cy="307.91" r="0.45" fill="#6b5cb8"/>
<circle cx="476.54" cy="306.75" r="0.53" fill="#2a1f78"/>
<circle cx="478.17" cy="310.08" r="0.39" fill="#8d82d0"/>
<circle cx="480.4" cy="310.9" r="3.19" fill="url(#gd)" stroke="#b9b2ec" stroke-width="0.5"/>
<circle cx="487.0" cy="307.0" r="1.0" fill="#221a60"/>
<circle cx="492.8" cy="313.5" r="1.95" fill="#d8d2ee" stroke="#2e2580" stroke-width="1.30"/>
<circle cx="477.8" cy="317.5" r="1.80" fill="#d8d2ee" stroke="#2e2580" stroke-width="1.20"/>
<circle cx="485.0" cy="317.5" r="3.63" fill="url(#gd)" stroke="#b9b2ec" stroke-width="0.5"/>
<circle cx="488.9" cy="321.4" r="4.09" fill="url(#gm)"/>
<circle cx="486.59" cy="323.90" r="0.36" fill="#b0a8e0"/>
<circle cx="487.83" cy="318.61" r="0.32" fill="#8d82d0"/>
<circle cx="488.62" cy="324.02" r="0.56" fill="#2a1f78"/>
<circle cx="491.05" cy="323.24" r="0.55" fill="#8d82d0"/>
<circle cx="491.41" cy="323.66" r="0.33" fill="#b0a8e0"/>
<circle cx="490.42" cy="320.13" r="0.60" fill="#6b5cb8"/>
<circle cx="489.71" cy="321.38" r="0.43" fill="#b0a8e0"/>
<circle cx="490.80" cy="318.85" r="0.64" fill="#8d82d0"/>
<circle cx="491.15" cy="323.80" r="0.49" fill="#6b5cb8"/>
<circle cx="489.30" cy="322.74" r="0.35" fill="#2a1f78"/>
<circle cx="488.95" cy="321.51" r="0.46" fill="#6b5cb8"/>
<circle cx="490.49" cy="323.44" r="0.37" fill="#8d82d0"/>
<circle cx="489.82" cy="324.02" r="0.60" fill="#8d82d0"/>
<circle cx="456.9" cy="316.8" r="3.46" fill="url(#gm)"/>
<circle cx="457.20" cy="318.45" r="0.52" fill="#2a1f78"/>
<circle cx="455.57" cy="318.77" r="0.61" fill="#b0a8e0"/>
<circle cx="456.46" cy="318.61" r="0.47" fill="#6b5cb8"/>
<circle cx="457.19" cy="319.04" r="0.34" fill="#6b5cb8"/>
<circle cx="454.46" cy="316.92" r="0.40" fill="#8d82d0"/>
<circle cx="456.13" cy="315.79" r="0.38" fill="#b0a8e0"/>
<circle cx="459.43" cy="316.39" r="0.56" fill="#8d82d0"/>
<circle cx="456.23" cy="317.80" r="0.62" fill="#8d82d0"/>
<circle cx="454.98" cy="318.19" r="0.38" fill="#8d82d0"/>
<circle cx="477.2" cy="327.3" r="3.63" fill="url(#gd)" stroke="#b9b2ec" stroke-width="0.5"/>
<circle cx="485.7" cy="331.2" r="2.64" fill="url(#gd)" stroke="#b9b2ec" stroke-width="0.5"/>
<circle cx="496.8" cy="335.1" r="2.0" fill="url(#gp)"/>
<circle cx="505.3" cy="318.1" r="2.86" fill="url(#gd)" stroke="#b9b2ec" stroke-width="0.5"/>
<circle cx="509.2" cy="314.8" r="3.04" fill="url(#gm)"/>
<circle cx="509.76" cy="317.32" r="0.31" fill="#8d82d0"/>
<circle cx="507.78" cy="312.90" r="0.60" fill="#2a1f78"/>
<circle cx="508.96" cy="313.47" r="0.42" fill="#6b5cb8"/>
<circle cx="510.71" cy="316.25" r="0.42" fill="#6b5cb8"/>
<circle cx="511.08" cy="314.82" r="0.45" fill="#b0a8e0"/>
<circle cx="509.51" cy="312.25" r="0.37" fill="#8d82d0"/>
<circle cx="507.03" cy="315.20" r="0.36" fill="#2a1f78"/>
<circle cx="511.8" cy="320.1" r="1.76" fill="url(#gd)" stroke="#b9b2ec" stroke-width="0.5"/>
<circle cx="509.8" cy="329.9" r="6.20" fill="url(#gb)"/>
<circle cx="510.55" cy="327.85" r="0.31" fill="#2a1f78"/>
<circle cx="509.06" cy="333.16" r="0.43" fill="#2a1f78"/>
<circle cx="512.06" cy="327.44" r="0.41" fill="#6b5cb8"/>
<circle cx="507.33" cy="325.61" r="0.41" fill="#b0a8e0"/>
<circle cx="507.32" cy="326.97" r="0.55" fill="#6b5cb8"/>
<circle cx="512.77" cy="325.60" r="0.56" fill="#8d82d0"/>
<circle cx="510.89" cy="334.35" r="0.45" fill="#8d82d0"/>
<circle cx="511.56" cy="328.93" r="0.60" fill="#b0a8e0"/>
<circle cx="512.25" cy="329.19" r="0.56" fill="#8d82d0"/>
<circle cx="512.84" cy="326.73" r="0.64" fill="#b0a8e0"/>
<circle cx="513.15" cy="328.03" r="0.32" fill="#8d82d0"/>
<circle cx="504.76" cy="330.83" r="0.35" fill="#2a1f78"/>
<circle cx="507.88" cy="332.22" r="0.57" fill="#2a1f78"/>
<circle cx="513.38" cy="326.43" r="0.45" fill="#2a1f78"/>
<circle cx="510.36" cy="330.28" r="0.58" fill="#8d82d0"/>
<circle cx="507.43" cy="329.74" r="0.30" fill="#8d82d0"/>
<circle cx="509.20" cy="333.07" r="0.59" fill="#8d82d0"/>
<circle cx="509.12" cy="334.59" r="0.37" fill="#8d82d0"/>
<circle cx="513.03" cy="330.14" r="0.64" fill="#2a1f78"/>
<circle cx="508.99" cy="332.29" r="0.50" fill="#6b5cb8"/>
<circle cx="507.37" cy="332.95" r="0.51" fill="#6b5cb8"/>
<circle cx="511.78" cy="327.98" r="0.41" fill="#6b5cb8"/>
<circle cx="509.40" cy="325.08" r="0.36" fill="#b0a8e0"/>
<circle cx="506.83" cy="328.12" r="0.51" fill="#6b5cb8"/>
<circle cx="508.24" cy="334.88" r="0.58" fill="#8d82d0"/>
<circle cx="511.01" cy="329.32" r="0.50" fill="#2a1f78"/>
<circle cx="512.89" cy="331.90" r="0.60" fill="#6b5cb8"/>
<circle cx="507.90" cy="330.17" r="0.36" fill="#b0a8e0"/>
<circle cx="512.03" cy="329.63" r="0.46" fill="#b0a8e0"/>
<circle cx="511.99" cy="332.54" r="0.47" fill="#6b5cb8"/>
<circle cx="509.85" cy="327.70" r="0.65" fill="#6b5cb8"/>
<circle cx="515.1" cy="320.1" r="1.43" fill="url(#gd)" stroke="#b9b2ec" stroke-width="0.5"/>
<rect x="386.40" y="242.50" width="132.10" height="98.00" fill="none" stroke="#000" stroke-width="2"/>
<rect x="451.00" y="242.50" width="4.50" height="98.00" fill="#fdfbff"/>
<rect x="386.40" y="290.40" width="132.10" height="3.00" fill="#fdfbff"/>
<rect x="387.40" y="243.50" width="63.60" height="46.90" fill="none" stroke="#5d4f72" stroke-width="0.8"/>
<rect x="387.40" y="293.40" width="63.60" height="46.10" fill="none" stroke="#5d4f72" stroke-width="0.8"/>
<rect x="455.50" y="243.50" width="62.00" height="46.90" fill="none" stroke="#5d4f72" stroke-width="0.8"/>
<rect x="455.50" y="293.40" width="62.00" height="46.10" fill="none" stroke="#5d4f72" stroke-width="0.8"/>
<text x="319" y="364.4" font-size="10" stroke="#000" stroke-width="0.15" text-anchor="middle" fill="#000" >0.1μM RGFP966</text>
<rect x="249.80" y="366.00" width="131.70" height="97.50" fill="#fcfbfb"/>
<circle cx="277" cy="400" r="6" fill="url(#gL)"/>
<circle cx="294" cy="381" r="5" fill="url(#gL)"/>
<circle cx="258" cy="405" r="4" fill="url(#gL)"/>
<circle cx="301" cy="398" r="4" fill="url(#gL)"/>
<circle cx="357" cy="382" r="5" fill="url(#gL)"/>
<circle cx="345" cy="402" r="5" fill="url(#gL)"/>
<circle cx="364" cy="395" r="4" fill="url(#gL)"/>
<circle cx="372" cy="378" r="5" fill="url(#gL)"/>
<circle cx="283" cy="443" r="6" fill="url(#gL)"/>
<circle cx="300" cy="425" r="5" fill="url(#gL)"/>
<circle cx="264" cy="438" r="5" fill="url(#gL)"/>
<circle cx="308" cy="455" r="4" fill="url(#gL)"/>
<circle cx="334" cy="431" r="5" fill="url(#gL)"/>
<circle cx="366" cy="433" r="6" fill="url(#gL)"/>
<circle cx="368" cy="452" r="4" fill="url(#gL)"/>
<circle cx="290" cy="447" r="5" fill="url(#gL)"/>
<circle cx="356" cy="447" r="4" fill="url(#gL)"/>
<circle cx="254.9" cy="372.2" r="4.29" fill="url(#gd)" stroke="#b9b2ec" stroke-width="0.5"/>
<circle cx="275.8" cy="371.5" r="2.64" fill="url(#gd)" stroke="#b9b2ec" stroke-width="0.5"/>
<circle cx="277.1" cy="375.5" r="2.20" fill="url(#gd)" stroke="#b9b2ec" stroke-width="0.5"/>
<circle cx="279.7" cy="379.4" r="2.86" fill="url(#gd)" stroke="#b9b2ec" stroke-width="0.5"/>
<circle cx="286.9" cy="382.7" r="2.86" fill="url(#gd)" stroke="#b9b2ec" stroke-width="0.5"/>
<circle cx="292.8" cy="385.9" r="3.7" fill="url(#gh)"/>
<circle cx="296.1" cy="376.8" r="3.7" fill="url(#gh)"/>
<circle cx="303.3" cy="380.0" r="2.64" fill="url(#gd)" stroke="#b9b2ec" stroke-width="0.5"/>
<circle cx="311.8" cy="375.5" r="2.86" fill="url(#gd)" stroke="#b9b2ec" stroke-width="0.5"/>
<circle cx="276.5" cy="387.2" r="3.3" fill="url(#gp)"/>
<circle cx="268.6" cy="396.4" r="2.64" fill="url(#gd)" stroke="#b9b2ec" stroke-width="0.5"/>
<circle cx="275.2" cy="396.4" r="3.19" fill="url(#gd)" stroke="#b9b2ec" stroke-width="0.5"/>
<circle cx="277.8" cy="399.7" r="2.86" fill="url(#gd)" stroke="#b9b2ec" stroke-width="0.5"/>
<circle cx="273.2" cy="404.2" r="2.86" fill="url(#gd)" stroke="#b9b2ec" stroke-width="0.5"/>
<circle cx="280.4" cy="404.2" r="2.86" fill="url(#gd)" stroke="#b9b2ec" stroke-width="0.5"/>
<circle cx="264.7" cy="401.0" r="2.20" fill="url(#gd)" stroke="#b9b2ec" stroke-width="0.5"/>
<circle cx="257.5" cy="403.6" r="1.80" fill="#d8d2ee" stroke="#2e2580" stroke-width="1.20"/>
<circle cx="258.2" cy="409.5" r="2.64" fill="url(#gd)" stroke="#b9b2ec" stroke-width="0.5"/>
<circle cx="300.7" cy="396.4" r="2.64" fill="url(#gd)" stroke="#b9b2ec" stroke-width="0.5"/>
<circle cx="303.9" cy="399.0" r="2.64" fill="url(#gd)" stroke="#b9b2ec" stroke-width="0.5"/>
<circle cx="367.0" cy="370.9" r="1.50" fill="#d8d2ee" stroke="#2e2580" stroke-width="1.00"/>
<circle cx="367.0" cy="376.1" r="2.20" fill="url(#gd)" stroke="#b9b2ec" stroke-width="0.5"/>
<circle cx="368.9" cy="382.0" r="5.2" fill="url(#gl)"/>
<circle cx="351.9" cy="378.1" r="2.9" fill="url(#gh)"/>
<circle cx="356.5" cy="380.7" r="2.64" fill="url(#gd)" stroke="#b9b2ec" stroke-width="0.5"/>
<circle cx="351.3" cy="384.6" r="2.86" fill="url(#gd)" stroke="#b9b2ec" stroke-width="0.5"/>
<circle cx="359.8" cy="385.3" r="3.19" fill="url(#gd)" stroke="#b9b2ec" stroke-width="0.5"/>
<circle cx="364.3" cy="389.2" r="2.64" fill="url(#gd)" stroke="#b9b2ec" stroke-width="0.5"/>
<circle cx="363.7" cy="395.1" r="2.64" fill="url(#gd)" stroke="#b9b2ec" stroke-width="0.5"/>
<circle cx="361.1" cy="399.0" r="2.20" fill="url(#gd)" stroke="#b9b2ec" stroke-width="0.5"/>
<circle cx="362.4" cy="405.5" r="2.20" fill="url(#gd)" stroke="#b9b2ec" stroke-width="0.5"/>
<circle cx="359.1" cy="402.9" r="2.20" fill="url(#gd)" stroke="#b9b2ec" stroke-width="0.5"/>
<circle cx="355.2" cy="401.0" r="2.64" fill="url(#gd)" stroke="#b9b2ec" stroke-width="0.5"/>
<circle cx="350.0" cy="400.3" r="3.04" fill="url(#gm)"/>
<circle cx="350.84" cy="400.66" r="0.47" fill="#2a1f78"/>
<circle cx="350.10" cy="398.91" r="0.52" fill="#b0a8e0"/>
<circle cx="351.00" cy="401.95" r="0.51" fill="#8d82d0"/>
<circle cx="349.29" cy="398.83" r="0.60" fill="#2a1f78"/>
<circle cx="348.48" cy="401.85" r="0.35" fill="#6b5cb8"/>
<circle cx="351.96" cy="400.75" r="0.57" fill="#8d82d0"/>
<circle cx="350.44" cy="400.29" r="0.35" fill="#b0a8e0"/>
<circle cx="346.7" cy="402.3" r="2.73" fill="url(#gm)"/>
<circle cx="345.90" cy="403.10" r="0.52" fill="#b0a8e0"/>
<circle cx="345.31" cy="403.54" r="0.44" fill="#2a1f78"/>
<circle cx="344.62" cy="402.77" r="0.56" fill="#b0a8e0"/>
<circle cx="346.30" cy="403.95" r="0.65" fill="#2a1f78"/>
<circle cx="345.80" cy="403.09" r="0.51" fill="#6b5cb8"/>
<circle cx="347.59" cy="401.18" r="0.51" fill="#b0a8e0"/>
<circle cx="342.8" cy="399.7" r="2.86" fill="url(#gd)" stroke="#b9b2ec" stroke-width="0.5"/>
<circle cx="338.8" cy="400.3" r="2.86" fill="url(#gd)" stroke="#b9b2ec" stroke-width="0.5"/>
<circle cx="340.8" cy="405.5" r="3.19" fill="url(#gd)" stroke="#b9b2ec" stroke-width="0.5"/>
<circle cx="336.9" cy="410.8" r="2.64" fill="url(#gd)" stroke="#b9b2ec" stroke-width="0.5"/>
<circle cx="329.0" cy="401.6" r="2.6" fill="url(#gh)"/>
<circle cx="323.8" cy="393.1" r="2.6" fill="url(#gp)"/>
<circle cx="378.1" cy="389.8" r="2.6" fill="url(#gp)"/>
<circle cx="299.3" cy="419.5" r="2.64" fill="url(#gd)" stroke="#b9b2ec" stroke-width="0.5"/>
<circle cx="304.6" cy="420.2" r="2.86" fill="url(#gd)" stroke="#b9b2ec" stroke-width="0.5"/>
<circle cx="303.9" cy="424.8" r="2.64" fill="url(#gd)" stroke="#b9b2ec" stroke-width="0.5"/>
<circle cx="311.1" cy="423.5" r="2.86" fill="url(#gd)" stroke="#b9b2ec" stroke-width="0.5"/>
<circle cx="290.8" cy="424.8" r="2.64" fill="url(#gd)" stroke="#b9b2ec" stroke-width="0.5"/>
<circle cx="296.1" cy="428.0" r="2.64" fill="url(#gd)" stroke="#b9b2ec" stroke-width="0.5"/>
<circle cx="308.5" cy="429.3" r="2.64" fill="url(#gd)" stroke="#b9b2ec" stroke-width="0.5"/>
<circle cx="298.7" cy="433.3" r="2.64" fill="url(#gd)" stroke="#b9b2ec" stroke-width="0.5"/>
<circle cx="279.1" cy="431.3" r="2.86" fill="url(#gd)" stroke="#b9b2ec" stroke-width="0.5"/>
<circle cx="269.9" cy="430.7" r="2.4" fill="url(#gh)"/>
<circle cx="267.3" cy="435.2" r="2.86" fill="url(#gd)" stroke="#b9b2ec" stroke-width="0.5"/>
<circle cx="272.5" cy="435.9" r="3.19" fill="url(#gd)" stroke="#b9b2ec" stroke-width="0.5"/>
<circle cx="261.4" cy="435.9" r="2.64" fill="url(#gd)" stroke="#b9b2ec" stroke-width="0.5"/>
<circle cx="258.2" cy="440.5" r="3.89" fill="url(#gm)"/>
<circle cx="255.36" cy="441.42" r="0.44" fill="#6b5cb8"/>
<circle cx="259.36" cy="442.34" r="0.34" fill="#2a1f78"/>
<circle cx="256.26" cy="439.62" r="0.52" fill="#6b5cb8"/>
<circle cx="258.66" cy="442.89" r="0.37" fill="#b0a8e0"/>
<circle cx="258.83" cy="437.98" r="0.54" fill="#2a1f78"/>
<circle cx="257.59" cy="443.46" r="0.38" fill="#6b5cb8"/>
<circle cx="257.35" cy="443.06" r="0.31" fill="#8d82d0"/>
<circle cx="259.18" cy="437.79" r="0.64" fill="#8d82d0"/>
<circle cx="260.50" cy="440.94" r="0.50" fill="#6b5cb8"/>
<circle cx="260.09" cy="438.45" r="0.40" fill="#6b5cb8"/>
<circle cx="258.58" cy="437.39" r="0.37" fill="#b0a8e0"/>
<circle cx="259.56" cy="441.24" r="0.36" fill="#2a1f78"/>
<circle cx="258.2" cy="446.3" r="2.86" fill="url(#gd)" stroke="#b9b2ec" stroke-width="0.5"/>
<circle cx="296.1" cy="439.2" r="2.64" fill="url(#gd)" stroke="#b9b2ec" stroke-width="0.5"/>
<circle cx="292.2" cy="441.1" r="2.64" fill="url(#gd)" stroke="#b9b2ec" stroke-width="0.5"/>
<circle cx="288.2" cy="441.1" r="2.64" fill="url(#gd)" stroke="#b9b2ec" stroke-width="0.5"/>
<circle cx="284.3" cy="441.8" r="2.64" fill="url(#gd)" stroke="#b9b2ec" stroke-width="0.5"/>
<circle cx="280.4" cy="443.7" r="3.19" fill="url(#gd)" stroke="#b9b2ec" stroke-width="0.5"/>
<circle cx="275.8" cy="445.0" r="2.86" fill="url(#gd)" stroke="#b9b2ec" stroke-width="0.5"/>
<circle cx="279.7" cy="447.7" r="2.86" fill="url(#gd)" stroke="#b9b2ec" stroke-width="0.5"/>
<circle cx="286.3" cy="447.7" r="3.63" fill="url(#gd)" stroke="#b9b2ec" stroke-width="0.5"/>
<circle cx="300.0" cy="445.0" r="4.29" fill="url(#gd)" stroke="#b9b2ec" stroke-width="0.5"/>
<circle cx="285.6" cy="457.5" r="2.86" fill="url(#gd)" stroke="#b9b2ec" stroke-width="0.5"/>
<circle cx="269.9" cy="456.2" r="4.6" fill="url(#gl)"/>
<circle cx="273.8" cy="457.5" r="2.86" fill="url(#gd)" stroke="#b9b2ec" stroke-width="0.5"/>
<circle cx="280.4" cy="460.7" r="2.20" fill="url(#gd)" stroke="#b9b2ec" stroke-width="0.5"/>
<circle cx="305.2" cy="458.1" r="3.3" fill="url(#gl)"/>
<circle cx="309.2" cy="457.5" r="3.63" fill="url(#gd)" stroke="#b9b2ec" stroke-width="0.5"/>
<circle cx="313.1" cy="445.0" r="2.20" fill="url(#gd)" stroke="#b9b2ec" stroke-width="0.5"/>
<circle cx="313.1" cy="449.6" r="2.20" fill="url(#gd)" stroke="#b9b2ec" stroke-width="0.5"/>
<circle cx="342.8" cy="418.9" r="2.20" fill="url(#gd)" stroke="#b9b2ec" stroke-width="0.5"/>
<circle cx="346.7" cy="418.2" r="1.43" fill="url(#gd)" stroke="#b9b2ec" stroke-width="0.5"/>
<circle cx="371.5" cy="418.2" r="2.20" fill="url(#gd)" stroke="#b9b2ec" stroke-width="0.5"/>
<circle cx="325.8" cy="432.0" r="2.64" fill="url(#gd)" stroke="#b9b2ec" stroke-width="0.5"/>
<circle cx="331.0" cy="427.4" r="2.64" fill="url(#gd)" stroke="#b9b2ec" stroke-width="0.5"/>
<circle cx="338.2" cy="426.7" r="2.64" fill="url(#gd)" stroke="#b9b2ec" stroke-width="0.5"/>
<circle cx="337.5" cy="435.9" r="3.3" fill="url(#gl)"/>
<circle cx="336.9" cy="432.6" r="2.64" fill="url(#gd)" stroke="#b9b2ec" stroke-width="0.5"/>
<circle cx="342.1" cy="431.3" r="2.20" fill="url(#gd)" stroke="#b9b2ec" stroke-width="0.5"/>
<circle cx="363.7" cy="430.0" r="5.2" fill="url(#gl)"/>
<circle cx="361.1" cy="431.3" r="2.64" fill="url(#gd)" stroke="#b9b2ec" stroke-width="0.5"/>
<circle cx="364.3" cy="429.3" r="2.64" fill="url(#gd)" stroke="#b9b2ec" stroke-width="0.5"/>
<circle cx="361.1" cy="436.5" r="2.20" fill="url(#gd)" stroke="#b9b2ec" stroke-width="0.5"/>
<circle cx="364.3" cy="439.8" r="2.20" fill="url(#gd)" stroke="#b9b2ec" stroke-width="0.5"/>
<circle cx="371.5" cy="435.9" r="2.20" fill="url(#gd)" stroke="#b9b2ec" stroke-width="0.5"/>
<circle cx="375.5" cy="432.0" r="2.20" fill="url(#gd)" stroke="#b9b2ec" stroke-width="0.5"/>
<circle cx="361.7" cy="447.0" r="2.64" fill="url(#gd)" stroke="#b9b2ec" stroke-width="0.5"/>
<circle cx="366.3" cy="446.3" r="1.50" fill="#d8d2ee" stroke="#2e2580" stroke-width="1.00"/>
<circle cx="363.7" cy="450.3" r="2.20" fill="url(#gd)" stroke="#b9b2ec" stroke-width="0.5"/>
<circle cx="367.6" cy="456.2" r="2.64" fill="url(#gd)" stroke="#b9b2ec" stroke-width="0.5"/>
<circle cx="376.8" cy="447.0" r="2.20" fill="url(#gd)" stroke="#b9b2ec" stroke-width="0.5"/>
<circle cx="321.8" cy="454.8" r="4.09" fill="url(#gm)"/>
<circle cx="322.96" cy="456.15" r="0.63" fill="#6b5cb8"/>
<circle cx="325.12" cy="455.71" r="0.58" fill="#2a1f78"/>
<circle cx="321.48" cy="451.51" r="0.31" fill="#8d82d0"/>
<circle cx="324.12" cy="452.81" r="0.37" fill="#2a1f78"/>
<circle cx="324.77" cy="455.08" r="0.62" fill="#6b5cb8"/>
<circle cx="322.90" cy="454.92" r="0.30" fill="#2a1f78"/>
<circle cx="318.72" cy="456.07" r="0.36" fill="#6b5cb8"/>
<circle cx="323.55" cy="457.64" r="0.57" fill="#2a1f78"/>
<circle cx="324.27" cy="456.83" r="0.42" fill="#2a1f78"/>
<circle cx="321.66" cy="452.25" r="0.49" fill="#b0a8e0"/>
<circle cx="319.54" cy="456.02" r="0.49" fill="#6b5cb8"/>
<circle cx="322.66" cy="452.56" r="0.51" fill="#b0a8e0"/>
<circle cx="323.42" cy="453.55" r="0.64" fill="#2a1f78"/>
<circle cx="355.2" cy="458.8" r="2.20" fill="url(#gd)" stroke="#b9b2ec" stroke-width="0.5"/>
<circle cx="374.2" cy="459.4" r="2.20" fill="url(#gd)" stroke="#b9b2ec" stroke-width="0.5"/>
<circle cx="342.8" cy="462.0" r="2.20" fill="url(#gd)" stroke="#b9b2ec" stroke-width="0.5"/>
<rect x="249.80" y="366.00" width="131.70" height="97.50" fill="none" stroke="#000" stroke-width="2"/>
<rect x="314.10" y="366.00" width="5.20" height="97.50" fill="#fdfbff"/>
<rect x="249.80" y="413.40" width="131.70" height="4.00" fill="#fdfbff"/>
<rect x="250.80" y="367.00" width="63.30" height="46.40" fill="none" stroke="#5d4f72" stroke-width="0.8"/>
<rect x="250.80" y="417.40" width="63.30" height="45.10" fill="none" stroke="#5d4f72" stroke-width="0.8"/>
<rect x="319.30" y="367.00" width="61.20" height="46.40" fill="none" stroke="#5d4f72" stroke-width="0.8"/>
<rect x="319.30" y="417.40" width="61.20" height="45.10" fill="none" stroke="#5d4f72" stroke-width="0.8"/>
<text x="449.8" y="363.7" font-size="10" stroke="#000" stroke-width="0.15" text-anchor="middle" fill="#000" >0.5μM RGFP966</text>
<rect x="386.40" y="366.00" width="132.10" height="97.80" fill="#fcfbfb"/>
<circle cx="400" cy="386" r="4" fill="url(#gL)"/>
<circle cx="486" cy="385" r="5" fill="url(#gL)"/>
<circle cx="470" cy="398" r="4" fill="url(#gL)"/>
<circle cx="410" cy="452" r="5" fill="url(#gL)"/>
<circle cx="425" cy="428" r="5" fill="url(#gL)"/>
<circle cx="410.8" cy="369.6" r="3.89" fill="url(#gm)"/>
<circle cx="412.44" cy="370.25" r="0.33" fill="#b0a8e0"/>
<circle cx="411.83" cy="367.89" r="0.50" fill="#2a1f78"/>
<circle cx="413.74" cy="369.20" r="0.60" fill="#2a1f78"/>
<circle cx="409.59" cy="370.20" r="0.50" fill="#6b5cb8"/>
<circle cx="411.35" cy="369.08" r="0.38" fill="#b0a8e0"/>
<circle cx="410.07" cy="371.85" r="0.38" fill="#2a1f78"/>
<circle cx="408.60" cy="368.87" r="0.61" fill="#8d82d0"/>
<circle cx="408.39" cy="368.54" r="0.30" fill="#8d82d0"/>
<circle cx="409.37" cy="370.02" r="0.55" fill="#b0a8e0"/>
<circle cx="410.99" cy="368.09" r="0.52" fill="#2a1f78"/>
<circle cx="411.04" cy="367.13" r="0.54" fill="#2a1f78"/>
<circle cx="412.02" cy="367.97" r="0.62" fill="#b0a8e0"/>
<circle cx="416.1" cy="370.9" r="1.50" fill="#d8d2ee" stroke="#2e2580" stroke-width="1.00"/>
<circle cx="410.2" cy="374.2" r="2.20" fill="url(#gd)" stroke="#b9b2ec" stroke-width="0.5"/>
<circle cx="423.9" cy="374.2" r="3.9" fill="url(#gh)"/>
<circle cx="430.5" cy="370.9" r="1.50" fill="#d8d2ee" stroke="#2e2580" stroke-width="1.00"/>
<circle cx="403.0" cy="378.1" r="3.46" fill="url(#gm)"/>
<circle cx="402.98" cy="377.39" r="0.31" fill="#b0a8e0"/>
<circle cx="403.47" cy="377.01" r="0.56" fill="#b0a8e0"/>
<circle cx="404.16" cy="377.99" r="0.47" fill="#2a1f78"/>
<circle cx="402.51" cy="377.67" r="0.52" fill="#6b5cb8"/>
<circle cx="403.53" cy="376.92" r="0.64" fill="#6b5cb8"/>
<circle cx="402.68" cy="375.58" r="0.39" fill="#8d82d0"/>
<circle cx="403.62" cy="380.80" r="0.31" fill="#8d82d0"/>
<circle cx="402.06" cy="378.06" r="0.41" fill="#2a1f78"/>
<circle cx="405.09" cy="380.17" r="0.31" fill="#2a1f78"/>
<circle cx="414.1" cy="380.0" r="1.80" fill="#d8d2ee" stroke="#2e2580" stroke-width="1.20"/>
<circle cx="406.9" cy="385.9" r="5.2" fill="url(#gl)"/>
<circle cx="405.0" cy="384.0" r="2.64" fill="url(#gd)" stroke="#b9b2ec" stroke-width="0.5"/>
<circle cx="413.5" cy="393.8" r="5.9" fill="url(#gl)"/>
<circle cx="412.2" cy="395.7" r="3.19" fill="url(#gd)" stroke="#b9b2ec" stroke-width="0.5"/>
<circle cx="393.8" cy="377.4" r="2.20" fill="url(#gd)" stroke="#b9b2ec" stroke-width="0.5"/>
<circle cx="397.1" cy="388.5" r="2.64" fill="url(#gd)" stroke="#b9b2ec" stroke-width="0.5"/>
<circle cx="395.8" cy="393.1" r="2.20" fill="url(#gd)" stroke="#b9b2ec" stroke-width="0.5"/>
<circle cx="395.2" cy="395.7" r="2.20" fill="url(#gd)" stroke="#b9b2ec" stroke-width="0.5"/>
<circle cx="421.3" cy="401.6" r="5.9" fill="url(#gl)"/>
<circle cx="429.2" cy="403.0" r="5.2" fill="url(#gl)"/>
<circle cx="423.9" cy="403.6" r="3.19" fill="url(#gd)" stroke="#b9b2ec" stroke-width="0.5"/>
<circle cx="423.9" cy="409.5" r="3.63" fill="url(#gd)" stroke="#b9b2ec" stroke-width="0.5"/>
<circle cx="427.8" cy="397.0" r="2.20" fill="url(#gd)" stroke="#b9b2ec" stroke-width="0.5"/>
<circle cx="431.8" cy="397.7" r="1.50" fill="#d8d2ee" stroke="#2e2580" stroke-width="1.00"/>
<circle cx="442.2" cy="398.3" r="1.50" fill="#d8d2ee" stroke="#2e2580" stroke-width="1.00"/>
<circle cx="393.8" cy="411.4" r="2.20" fill="url(#gd)" stroke="#b9b2ec" stroke-width="0.5"/>
<circle cx="482.4" cy="374.2" r="4.83" fill="url(#gm)"/>
<circle cx="479.13" cy="372.21" r="0.43" fill="#8d82d0"/>
<circle cx="483.39" cy="372.30" r="0.57" fill="#2a1f78"/>
<circle cx="480.54" cy="375.95" r="0.37" fill="#b0a8e0"/>
<circle cx="482.98" cy="374.36" r="0.39" fill="#b0a8e0"/>
<circle cx="482.51" cy="370.51" r="0.32" fill="#6b5cb8"/>
<circle cx="482.48" cy="371.80" r="0.59" fill="#8d82d0"/>
<circle cx="483.63" cy="374.65" r="0.41" fill="#2a1f78"/>
<circle cx="483.93" cy="370.90" r="0.43" fill="#2a1f78"/>
<circle cx="481.34" cy="374.42" r="0.57" fill="#6b5cb8"/>
<circle cx="484.87" cy="372.11" r="0.57" fill="#6b5cb8"/>
<circle cx="485.68" cy="375.76" r="0.52" fill="#2a1f78"/>
<circle cx="482.53" cy="372.85" r="0.62" fill="#b0a8e0"/>
<circle cx="483.38" cy="374.19" r="0.42" fill="#2a1f78"/>
<circle cx="483.54" cy="374.71" r="0.39" fill="#b0a8e0"/>
<circle cx="482.02" cy="374.13" r="0.55" fill="#6b5cb8"/>
<circle cx="480.85" cy="374.66" r="0.42" fill="#6b5cb8"/>
<circle cx="486.30" cy="374.18" r="0.31" fill="#b0a8e0"/>
<circle cx="483.08" cy="377.89" r="0.53" fill="#2a1f78"/>
<circle cx="481.58" cy="372.01" r="0.40" fill="#8d82d0"/>
<circle cx="492.8" cy="380.7" r="5.2" fill="url(#gl)"/>
<circle cx="477.8" cy="378.1" r="2.64" fill="url(#gd)" stroke="#b9b2ec" stroke-width="0.5"/>
<circle cx="490.2" cy="378.7" r="2.64" fill="url(#gd)" stroke="#b9b2ec" stroke-width="0.5"/>
<circle cx="484.3" cy="379.4" r="1.50" fill="#d8d2ee" stroke="#2e2580" stroke-width="1.00"/>
<circle cx="485.0" cy="384.6" r="1.50" fill="#d8d2ee" stroke="#2e2580" stroke-width="1.00"/>
<circle cx="486.3" cy="389.2" r="1.50" fill="#d8d2ee" stroke="#2e2580" stroke-width="1.00"/>
<circle cx="483.0" cy="393.8" r="1.50" fill="#d8d2ee" stroke="#2e2580" stroke-width="1.00"/>
<circle cx="488.9" cy="394.4" r="2.20" fill="url(#gd)" stroke="#b9b2ec" stroke-width="0.5"/>
<circle cx="481.7" cy="399.0" r="2.20" fill="url(#gd)" stroke="#b9b2ec" stroke-width="0.5"/>
<circle cx="474.5" cy="397.0" r="2.20" fill="url(#gd)" stroke="#b9b2ec" stroke-width="0.5"/>
<circle cx="476.5" cy="402.9" r="2.20" fill="url(#gd)" stroke="#b9b2ec" stroke-width="0.5"/>
<circle cx="465.4" cy="394.4" r="2.20" fill="url(#gd)" stroke="#b9b2ec" stroke-width="0.5"/>
<circle cx="463.4" cy="398.3" r="2.64" fill="url(#gd)" stroke="#b9b2ec" stroke-width="0.5"/>
<circle cx="467.3" cy="400.3" r="2.20" fill="url(#gd)" stroke="#b9b2ec" stroke-width="0.5"/>
<circle cx="459.5" cy="404.9" r="4.09" fill="url(#gm)"/>
<circle cx="458.22" cy="404.13" r="0.63" fill="#8d82d0"/>
<circle cx="458.95" cy="407.65" r="0.39" fill="#8d82d0"/>
<circle cx="458.62" cy="406.41" r="0.47" fill="#b0a8e0"/>
<circle cx="456.34" cy="403.80" r="0.48" fill="#6b5cb8"/>
<circle cx="461.68" cy="407.25" r="0.32" fill="#2a1f78"/>
<circle cx="461.09" cy="403.66" r="0.44" fill="#6b5cb8"/>
<circle cx="462.07" cy="402.59" r="0.50" fill="#2a1f78"/>
<circle cx="458.76" cy="401.88" r="0.53" fill="#2a1f78"/>
<circle cx="456.83" cy="405.06" r="0.49" fill="#b0a8e0"/>
<circle cx="461.19" cy="403.38" r="0.61" fill="#2a1f78"/>
<circle cx="460.30" cy="408.15" r="0.55" fill="#2a1f78"/>
<circle cx="460.12" cy="406.38" r="0.44" fill="#2a1f78"/>
<circle cx="460.28" cy="405.30" r="0.61" fill="#2a1f78"/>
<circle cx="510.5" cy="397.7" r="8.19" fill="url(#gP)"/>
<circle cx="510.62" cy="401.79" r="0.32" fill="#5a3c9a"/>
<circle cx="510.02" cy="402.24" r="0.38" fill="#3a2278"/>
<circle cx="506.43" cy="396.23" r="0.54" fill="#a892d6"/>
<circle cx="509.01" cy="394.83" r="0.33" fill="#3a2278"/>
<circle cx="506.61" cy="402.41" r="0.31" fill="#a892d6"/>
<circle cx="505.18" cy="400.25" r="0.47" fill="#5a3c9a"/>
<circle cx="510.54" cy="401.04" r="0.43" fill="#5a3c9a"/>
<circle cx="507.08" cy="398.29" r="0.59" fill="#3a2278"/>
<circle cx="509.21" cy="401.42" r="0.44" fill="#3a2278"/>
<circle cx="511.11" cy="399.94" r="0.61" fill="#5a3c9a"/>
<circle cx="510.55" cy="403.74" r="0.58" fill="#3a2278"/>
<circle cx="506.19" cy="394.15" r="0.62" fill="#c8b8ea"/>
<circle cx="505.74" cy="400.92" r="0.47" fill="#5a3c9a"/>
<circle cx="513.62" cy="392.79" r="0.42" fill="#3a2278"/>
<circle cx="508.37" cy="392.82" r="0.50" fill="#c8b8ea"/>
<circle cx="509.24" cy="396.97" r="0.53" fill="#3a2278"/>
<circle cx="513.48" cy="395.78" r="0.43" fill="#a892d6"/>
<circle cx="512.43" cy="391.34" r="0.63" fill="#a892d6"/>
<circle cx="507.98" cy="395.82" r="0.32" fill="#a892d6"/>
<circle cx="504.26" cy="400.62" r="0.48" fill="#a892d6"/>
<circle cx="512.73" cy="399.17" r="0.65" fill="#a892d6"/>
<circle cx="507.17" cy="400.93" r="0.54" fill="#a892d6"/>
<circle cx="507.84" cy="400.90" r="0.41" fill="#5a3c9a"/>
<circle cx="505.48" cy="398.48" r="0.32" fill="#c8b8ea"/>
<circle cx="515.01" cy="393.92" r="0.50" fill="#3a2278"/>
<circle cx="514.92" cy="398.65" r="0.43" fill="#3a2278"/>
<circle cx="512.11" cy="392.43" r="0.62" fill="#3a2278"/>
<circle cx="509.44" cy="396.45" r="0.53" fill="#5a3c9a"/>
<circle cx="505.89" cy="394.18" r="0.34" fill="#5a3c9a"/>
<circle cx="512.17" cy="393.99" r="0.63" fill="#3a2278"/>
<circle cx="505.64" cy="398.89" r="0.32" fill="#a892d6"/>
<circle cx="510.34" cy="391.24" r="0.36" fill="#c8b8ea"/>
<circle cx="516.45" cy="394.29" r="0.56" fill="#5a3c9a"/>
<circle cx="514.01" cy="398.84" r="0.62" fill="#5a3c9a"/>
<circle cx="510.56" cy="398.63" r="0.62" fill="#a892d6"/>
<circle cx="516.16" cy="399.63" r="0.51" fill="#5a3c9a"/>
<circle cx="508.39" cy="394.60" r="0.56" fill="#5a3c9a"/>
<circle cx="507.99" cy="396.40" r="0.54" fill="#5a3c9a"/>
<circle cx="508.58" cy="391.87" r="0.56" fill="#a892d6"/>
<circle cx="509.90" cy="403.86" r="0.54" fill="#3a2278"/>
<circle cx="515.16" cy="394.88" r="0.52" fill="#3a2278"/>
<circle cx="513.72" cy="393.98" r="0.35" fill="#5a3c9a"/>
<circle cx="512.92" cy="396.38" r="0.57" fill="#a892d6"/>
<circle cx="506.10" cy="400.90" r="0.59" fill="#a892d6"/>
<circle cx="505.62" cy="393.38" r="0.64" fill="#5a3c9a"/>
<circle cx="513.93" cy="402.91" r="0.38" fill="#a892d6"/>
<circle cx="514.57" cy="398.28" r="0.42" fill="#c8b8ea"/>
<circle cx="513.78" cy="403.27" r="0.50" fill="#a892d6"/>
<circle cx="507.02" cy="395.34" r="0.31" fill="#a892d6"/>
<circle cx="506.01" cy="396.87" r="0.44" fill="#3a2278"/>
<circle cx="515.04" cy="399.06" r="0.37" fill="#a892d6"/>
<circle cx="511.12" cy="393.55" r="0.40" fill="#3a2278"/>
<circle cx="513.64" cy="393.65" r="0.60" fill="#5a3c9a"/>
<circle cx="510.92" cy="392.31" r="0.58" fill="#a892d6"/>
<circle cx="503.3" cy="393.8" r="2.86" fill="url(#gd)" stroke="#b9b2ec" stroke-width="0.5"/>
<circle cx="506.6" cy="389.2" r="2.64" fill="url(#gd)" stroke="#b9b2ec" stroke-width="0.5"/>
<circle cx="481.7" cy="411.4" r="2.64" fill="url(#gd)" stroke="#b9b2ec" stroke-width="0.5"/>
<circle cx="466.7" cy="370.2" r="1.3" fill="url(#gl)"/>
<circle cx="412.2" cy="422.8" r="2.20" fill="url(#gd)" stroke="#b9b2ec" stroke-width="0.5"/>
<circle cx="417.4" cy="421.5" r="2.86" fill="url(#gd)" stroke="#b9b2ec" stroke-width="0.5"/>
<circle cx="425.2" cy="424.8" r="4.6" fill="url(#gl)"/>
<circle cx="423.9" cy="426.7" r="2.64" fill="url(#gd)" stroke="#b9b2ec" stroke-width="0.5"/>
<circle cx="418.7" cy="430.7" r="4.09" fill="url(#gm)"/>
<circle cx="416.15" cy="432.21" r="0.59" fill="#b0a8e0"/>
<circle cx="420.42" cy="432.44" r="0.50" fill="#8d82d0"/>
<circle cx="418.45" cy="433.63" r="0.57" fill="#6b5cb8"/>
<circle cx="416.73" cy="433.37" r="0.32" fill="#6b5cb8"/>
<circle cx="416.60" cy="432.89" r="0.58" fill="#b0a8e0"/>
<circle cx="420.54" cy="431.94" r="0.40" fill="#2a1f78"/>
<circle cx="420.69" cy="432.19" r="0.41" fill="#8d82d0"/>
<circle cx="420.39" cy="432.82" r="0.43" fill="#8d82d0"/>
<circle cx="419.83" cy="433.92" r="0.42" fill="#b0a8e0"/>
<circle cx="419.57" cy="429.27" r="0.46" fill="#6b5cb8"/>
<circle cx="419.10" cy="431.25" r="0.38" fill="#b0a8e0"/>
<circle cx="418.30" cy="431.93" r="0.59" fill="#8d82d0"/>
<circle cx="417.35" cy="432.32" r="0.56" fill="#2a1f78"/>
<circle cx="431.8" cy="426.1" r="1.50" fill="#d8d2ee" stroke="#2e2580" stroke-width="1.00"/>
<circle cx="429.8" cy="432.6" r="1.50" fill="#d8d2ee" stroke="#2e2580" stroke-width="1.00"/>
<circle cx="414.8" cy="436.5" r="1.76" fill="url(#gd)" stroke="#b9b2ec" stroke-width="0.5"/>
<circle cx="439.6" cy="437.2" r="1.50" fill="#d8d2ee" stroke="#2e2580" stroke-width="1.00"/>
<circle cx="422.0" cy="443.7" r="1.50" fill="#d8d2ee" stroke="#2e2580" stroke-width="1.00"/>
<circle cx="433.7" cy="447.7" r="1.50" fill="#d8d2ee" stroke="#2e2580" stroke-width="1.00"/>
<circle cx="391.9" cy="433.3" r="4.09" fill="url(#gm)"/>
<circle cx="391.62" cy="430.16" r="0.30" fill="#b0a8e0"/>
<circle cx="393.29" cy="432.30" r="0.42" fill="#2a1f78"/>
<circle cx="393.74" cy="431.18" r="0.64" fill="#2a1f78"/>
<circle cx="390.14" cy="434.08" r="0.50" fill="#b0a8e0"/>
<circle cx="395.06" cy="434.15" r="0.47" fill="#b0a8e0"/>
<circle cx="393.25" cy="432.90" r="0.53" fill="#2a1f78"/>
<circle cx="391.97" cy="436.12" r="0.64" fill="#6b5cb8"/>
<circle cx="389.79" cy="433.59" r="0.61" fill="#b0a8e0"/>
<circle cx="391.88" cy="432.64" r="0.40" fill="#8d82d0"/>
<circle cx="393.34" cy="431.16" r="0.51" fill="#2a1f78"/>
<circle cx="391.45" cy="432.84" r="0.31" fill="#8d82d0"/>
<circle cx="390.61" cy="431.91" r="0.61" fill="#6b5cb8"/>
<circle cx="391.97" cy="430.63" r="0.36" fill="#8d82d0"/>
<circle cx="392.5" cy="445.7" r="3.19" fill="url(#gd)" stroke="#b9b2ec" stroke-width="0.5"/>
<circle cx="393.2" cy="452.2" r="2.86" fill="url(#gd)" stroke="#b9b2ec" stroke-width="0.5"/>
<circle cx="390.6" cy="458.1" r="2.86" fill="url(#gd)" stroke="#b9b2ec" stroke-width="0.5"/>
<circle cx="397.8" cy="460.7" r="5.2" fill="url(#gl)"/>
<circle cx="406.9" cy="452.2" r="1.95" fill="#d8d2ee" stroke="#2e2580" stroke-width="1.30"/>
<circle cx="412.2" cy="448.3" r="2.64" fill="url(#gd)" stroke="#b9b2ec" stroke-width="0.5"/>
<circle cx="416.1" cy="452.2" r="3.46" fill="url(#gm)"/>
<circle cx="417.77" cy="452.60" r="0.56" fill="#b0a8e0"/>
<circle cx="414.51" cy="450.55" r="0.40" fill="#b0a8e0"/>
<circle cx="413.48" cy="451.48" r="0.53" fill="#8d82d0"/>
<circle cx="415.12" cy="454.47" r="0.44" fill="#b0a8e0"/>
<circle cx="417.60" cy="452.45" r="0.49" fill="#b0a8e0"/>
<circle cx="413.38" cy="451.32" r="0.53" fill="#2a1f78"/>
<circle cx="414.30" cy="454.09" r="0.53" fill="#6b5cb8"/>
<circle cx="414.65" cy="451.63" r="0.62" fill="#2a1f78"/>
<circle cx="416.76" cy="452.01" r="0.45" fill="#2a1f78"/>
<circle cx="408.2" cy="457.5" r="2.64" fill="url(#gd)" stroke="#b9b2ec" stroke-width="0.5"/>
<circle cx="413.5" cy="457.5" r="2.64" fill="url(#gd)" stroke="#b9b2ec" stroke-width="0.5"/>
<circle cx="464.7" cy="430.7" r="8.5" fill="url(#gM)"/>
<circle cx="461.5" cy="430.7" r="2.64" fill="url(#gd)" stroke="#b9b2ec" stroke-width="0.5"/>
<circle cx="475.8" cy="438.5" r="7.2" fill="url(#gl)"/>
<circle cx="481.1" cy="439.2" r="2.64" fill="url(#gd)" stroke="#b9b2ec" stroke-width="0.5"/>
<circle cx="485.7" cy="450.9" r="7.2" fill="url(#gl)"/>
<circle cx="483.0" cy="454.2" r="3.19" fill="url(#gd)" stroke="#b9b2ec" stroke-width="0.5"/>
<circle cx="496.1" cy="450.3" r="4.09" fill="url(#gm)"/>
<circle cx="499.18" cy="451.36" r="0.59" fill="#6b5cb8"/>
<circle cx="497.98" cy="451.35" r="0.33" fill="#2a1f78"/>
<circle cx="496.31" cy="448.79" r="0.37" fill="#2a1f78"/>
<circle cx="495.58" cy="447.93" r="0.38" fill="#6b5cb8"/>
<circle cx="494.91" cy="450.67" r="0.48" fill="#2a1f78"/>
<circle cx="495.03" cy="447.41" r="0.47" fill="#b0a8e0"/>
<circle cx="498.89" cy="451.92" r="0.39" fill="#b0a8e0"/>
<circle cx="495.46" cy="451.55" r="0.56" fill="#8d82d0"/>
<circle cx="498.08" cy="451.54" r="0.38" fill="#8d82d0"/>
<circle cx="494.13" cy="449.60" r="0.61" fill="#b0a8e0"/>
<circle cx="497.51" cy="448.16" r="0.34" fill="#b0a8e0"/>
<circle cx="498.98" cy="451.66" r="0.58" fill="#2a1f78"/>
<circle cx="496.41" cy="450.78" r="0.59" fill="#6b5cb8"/>
<circle cx="496.1" cy="459.4" r="5.9" fill="url(#gM)"/>
<circle cx="504.0" cy="438.5" r="4.83" fill="url(#gm)"/>
<circle cx="506.39" cy="441.18" r="0.38" fill="#2a1f78"/>
<circle cx="500.08" cy="439.63" r="0.32" fill="#6b5cb8"/>
<circle cx="506.19" cy="436.42" r="0.52" fill="#8d82d0"/>
<circle cx="506.92" cy="437.70" r="0.45" fill="#2a1f78"/>
<circle cx="503.27" cy="440.11" r="0.58" fill="#8d82d0"/>
<circle cx="504.28" cy="434.57" r="0.60" fill="#6b5cb8"/>
<circle cx="507.54" cy="437.16" r="0.59" fill="#b0a8e0"/>
<circle cx="501.84" cy="437.64" r="0.46" fill="#b0a8e0"/>
<circle cx="504.38" cy="440.73" r="0.54" fill="#8d82d0"/>
<circle cx="501.86" cy="439.16" r="0.34" fill="#8d82d0"/>
<circle cx="502.51" cy="441.32" r="0.58" fill="#6b5cb8"/>
<circle cx="506.21" cy="439.13" r="0.53" fill="#2a1f78"/>
<circle cx="505.03" cy="438.56" r="0.36" fill="#8d82d0"/>
<circle cx="506.33" cy="439.62" r="0.64" fill="#b0a8e0"/>
<circle cx="507.20" cy="439.12" r="0.43" fill="#2a1f78"/>
<circle cx="502.80" cy="441.89" r="0.53" fill="#8d82d0"/>
<circle cx="503.33" cy="441.30" r="0.47" fill="#b0a8e0"/>
<circle cx="501.56" cy="437.80" r="0.57" fill="#b0a8e0"/>
<circle cx="503.92" cy="436.63" r="0.46" fill="#8d82d0"/>
<circle cx="507.2" cy="420.8" r="3.89" fill="url(#gm)"/>
<circle cx="510.07" cy="421.89" r="0.33" fill="#8d82d0"/>
<circle cx="506.63" cy="420.69" r="0.42" fill="#2a1f78"/>
<circle cx="509.58" cy="420.88" r="0.65" fill="#b0a8e0"/>
<circle cx="506.17" cy="419.98" r="0.36" fill="#8d82d0"/>
<circle cx="509.52" cy="423.10" r="0.59" fill="#6b5cb8"/>
<circle cx="507.18" cy="422.60" r="0.39" fill="#b0a8e0"/>
<circle cx="509.28" cy="420.32" r="0.35" fill="#b0a8e0"/>
<circle cx="503.95" cy="420.67" r="0.31" fill="#6b5cb8"/>
<circle cx="506.05" cy="422.78" r="0.62" fill="#8d82d0"/>
<circle cx="507.05" cy="418.42" r="0.55" fill="#2a1f78"/>
<circle cx="505.71" cy="421.72" r="0.38" fill="#b0a8e0"/>
<circle cx="506.34" cy="421.10" r="0.60" fill="#6b5cb8"/>
<circle cx="513.8" cy="420.8" r="1.50" fill="#d8d2ee" stroke="#2e2580" stroke-width="1.00"/>
<circle cx="488.9" cy="422.8" r="1.50" fill="#d8d2ee" stroke="#2e2580" stroke-width="1.00"/>
<circle cx="495.5" cy="423.5" r="1.50" fill="#d8d2ee" stroke="#2e2580" stroke-width="1.00"/>
<circle cx="485.0" cy="427.4" r="1.50" fill="#d8d2ee" stroke="#2e2580" stroke-width="1.00"/>
<circle cx="492.2" cy="428.0" r="3.3" fill="url(#gl)"/>
<circle cx="492.8" cy="427.4" r="1.76" fill="url(#gd)" stroke="#b9b2ec" stroke-width="0.5"/>
<circle cx="475.2" cy="428.7" r="2.20" fill="url(#gd)" stroke="#b9b2ec" stroke-width="0.5"/>
<circle cx="466.0" cy="440.5" r="2.20" fill="url(#gd)" stroke="#b9b2ec" stroke-width="0.5"/>
<circle cx="464.7" cy="458.8" r="1.50" fill="#d8d2ee" stroke="#2e2580" stroke-width="1.00"/>
<circle cx="517.0" cy="432.0" r="1.76" fill="url(#gd)" stroke="#b9b2ec" stroke-width="0.5"/>
<rect x="386.40" y="366.00" width="132.10" height="97.80" fill="none" stroke="#000" stroke-width="2"/>
<rect x="451.00" y="366.00" width="4.50" height="97.80" fill="#fdfbff"/>
<rect x="386.40" y="413.40" width="132.10" height="3.70" fill="#fdfbff"/>
<rect x="387.40" y="367.00" width="63.60" height="46.40" fill="none" stroke="#5d4f72" stroke-width="0.8"/>
<rect x="387.40" y="417.10" width="63.60" height="45.70" fill="none" stroke="#5d4f72" stroke-width="0.8"/>
<rect x="455.50" y="367.00" width="62.00" height="46.40" fill="none" stroke="#5d4f72" stroke-width="0.8"/>
<rect x="455.50" y="417.10" width="62.00" height="45.70" fill="none" stroke="#5d4f72" stroke-width="0.8"/>
<text x="1.2" y="532.4" font-size="10.5" font-weight="bold" stroke="#000" stroke-width="0.22" text-anchor="start" fill="#000" >E</text>
<line x1="31.80" y1="537.50" x2="31.80" y2="644.10" stroke="#000" stroke-width="1.3"/>
<line x1="31.20" y1="643.40" x2="192.00" y2="643.40" stroke="#000" stroke-width="1.4"/>
<line x1="28.00" y1="643.40" x2="31.80" y2="643.40" stroke="#000" stroke-width="1"/>
<text x="28.2" y="645.9" font-size="7" font-weight="bold" stroke="#000" stroke-width="0.22" text-anchor="end" fill="#000" >0</text>
<line x1="28.00" y1="622.35" x2="31.80" y2="622.35" stroke="#000" stroke-width="1"/>
<text x="28.2" y="624.85" font-size="7" font-weight="bold" stroke="#000" stroke-width="0.22" text-anchor="end" fill="#000" >20</text>
<line x1="28.00" y1="601.30" x2="31.80" y2="601.30" stroke="#000" stroke-width="1"/>
<text x="28.2" y="603.8" font-size="7" font-weight="bold" stroke="#000" stroke-width="0.22" text-anchor="end" fill="#000" >40</text>
<line x1="28.00" y1="580.25" x2="31.80" y2="580.25" stroke="#000" stroke-width="1"/>
<text x="28.2" y="582.75" font-size="7" font-weight="bold" stroke="#000" stroke-width="0.22" text-anchor="end" fill="#000" >60</text>
<line x1="28.00" y1="559.20" x2="31.80" y2="559.20" stroke="#000" stroke-width="1"/>
<text x="28.2" y="561.6999999999999" font-size="7" font-weight="bold" stroke="#000" stroke-width="0.22" text-anchor="end" fill="#000" >80</text>
<line x1="28.00" y1="538.15" x2="31.80" y2="538.15" stroke="#000" stroke-width="1"/>
<text x="28.2" y="540.65" font-size="7" font-weight="bold" stroke="#000" stroke-width="0.22" text-anchor="end" fill="#000" >100</text>
<rect x="38.80" y="538.15" width="26.60" height="105.25" fill="#a3a3a3"/>
<rect x="38.80" y="637.08" width="26.60" height="6.31" fill="#000"/>
<line x1="52.10" y1="643.40" x2="52.10" y2="646.00" stroke="#000" stroke-width="1"/>
<text x="55.099999999999994" y="652.1999999999999" font-size="7.4" font-weight="bold" stroke="#000" stroke-width="0.22" text-anchor="end" transform="rotate(-45 55.099999999999994 652.1999999999999)">DMSO</text>
<rect x="78.25" y="538.15" width="26.60" height="105.25" fill="#a3a3a3"/>
<rect x="78.25" y="634.66" width="26.60" height="8.74" fill="#000"/>
<line x1="91.55" y1="643.40" x2="91.55" y2="646.00" stroke="#000" stroke-width="1"/>
<text x="94.55" y="652.1999999999999" font-size="7.4" font-weight="bold" stroke="#000" stroke-width="0.22" text-anchor="end" transform="rotate(-45 94.55 652.1999999999999)">0.05μM</text>
<rect x="117.70" y="538.15" width="26.60" height="105.25" fill="#a3a3a3"/>
<rect x="117.70" y="607.40" width="26.60" height="36.00" fill="#000"/>
<line x1="131.00" y1="643.40" x2="131.00" y2="646.00" stroke="#000" stroke-width="1"/>
<text x="134.0" y="652.1999999999999" font-size="7.4" font-weight="bold" stroke="#000" stroke-width="0.22" text-anchor="end" transform="rotate(-45 134.0 652.1999999999999)">0.1μM</text>
<rect x="157.15" y="538.15" width="26.60" height="105.25" fill="#a3a3a3"/>
<rect x="157.15" y="589.41" width="26.60" height="53.99" fill="#000"/>
<line x1="170.45" y1="643.40" x2="170.45" y2="646.00" stroke="#000" stroke-width="1"/>
<text x="173.45000000000002" y="652.1999999999999" font-size="7.4" font-weight="bold" stroke="#000" stroke-width="0.22" text-anchor="end" transform="rotate(-45 173.45000000000002 652.1999999999999)">0.5μM</text>
<text x="91.6" y="681.3" font-size="7.5" font-weight="bold" stroke="#000" stroke-width="0.22" text-anchor="start" fill="#000" textLength="38.4" lengthAdjust="spacingAndGlyphs" >[RGFP966]</text>
<text x="0" y="0" font-size="7.1" font-weight="bold" stroke="#000" stroke-width="0.18" text-anchor="middle" transform="translate(8.4,589.2) rotate(-90)" textLength="95" lengthAdjust="spacingAndGlyphs">Percentage of APL cells (%)</text>
<rect x="201.00" y="542.80" width="11.50" height="4.60" fill="#a3a3a3"/>
<rect x="201.00" y="554.40" width="11.50" height="4.20" fill="#000"/>
<text x="218.3" y="548" font-size="8.2" stroke="#000" stroke-width="0.15" text-anchor="start" fill="#000" textLength="30.2" lengthAdjust="spacingAndGlyphs" >Immature</text>
<text x="218.3" y="560" font-size="8.2" stroke="#000" stroke-width="0.15" text-anchor="start" fill="#000" textLength="23" lengthAdjust="spacingAndGlyphs" >Mature</text>
<text x="259.6" y="531" font-size="11" font-weight="bold" stroke="#000" stroke-width="0.22" text-anchor="start" fill="#000" >F</text>
<line x1="287.00" y1="538.30" x2="287.00" y2="638.30" stroke="#000" stroke-width="1.3"/>
<line x1="286.40" y1="637.60" x2="436.30" y2="637.60" stroke="#000" stroke-width="1.4"/>
<line x1="283.30" y1="637.60" x2="287.00" y2="637.60" stroke="#000" stroke-width="1"/>
<text x="282.9" y="640.2" font-size="7.4" font-weight="bold" stroke="#000" stroke-width="0.22" text-anchor="end" fill="#000" >0</text>
<line x1="283.30" y1="588.18" x2="287.00" y2="588.18" stroke="#000" stroke-width="1"/>
<text x="282.9" y="590.7750000000001" font-size="7.4" font-weight="bold" stroke="#000" stroke-width="0.22" text-anchor="end" fill="#000" >50</text>
<line x1="283.30" y1="538.75" x2="287.00" y2="538.75" stroke="#000" stroke-width="1"/>
<text x="282.9" y="541.35" font-size="7.4" font-weight="bold" stroke="#000" stroke-width="0.22" text-anchor="end" fill="#000" >100</text>
<rect x="294.80" y="585.21" width="10.50" height="52.39" fill="#000" stroke="#000" stroke-width="0.6"/>
<line x1="300.00" y1="582.74" x2="300.00" y2="585.21" stroke="#000" stroke-width="0.8"/>
<line x1="297.40" y1="582.74" x2="302.60" y2="582.74" stroke="#000" stroke-width="0.8"/>
<rect x="310.80" y="551.60" width="10.50" height="86.00" fill="#a5a5a5" stroke="#777" stroke-width="0.6"/>
<line x1="316.00" y1="544.68" x2="316.00" y2="551.60" stroke="#888" stroke-width="0.8"/>
<line x1="313.40" y1="544.68" x2="318.60" y2="544.68" stroke="#888" stroke-width="0.8"/>
<rect x="326.80" y="544.68" width="10.50" height="92.92" fill="#7a7a7a" stroke="#555" stroke-width="0.6"/>
<line x1="332.00" y1="543.69" x2="332.00" y2="544.68" stroke="#888" stroke-width="0.8"/>
<line x1="329.40" y1="543.69" x2="334.60" y2="543.69" stroke="#888" stroke-width="0.8"/>
<rect x="342.80" y="542.70" width="10.50" height="94.90" fill="#d6d6d6" stroke="#9c9c9c" stroke-width="0.6"/>
<line x1="348.00" y1="539.74" x2="348.00" y2="542.70" stroke="#888" stroke-width="0.8"/>
<line x1="345.40" y1="539.74" x2="350.60" y2="539.74" stroke="#888" stroke-width="0.8"/>
<line x1="324.00" y1="637.60" x2="324.00" y2="640.20" stroke="#000" stroke-width="1"/>
<text x="326.6" y="646.9" font-size="7.5" font-weight="bold" stroke="#000" stroke-width="0.22" text-anchor="end" transform="rotate(-45 326.6 646.9)">Gr.1</text>
<rect x="369.50" y="598.06" width="10.50" height="39.54" fill="#000" stroke="#000" stroke-width="0.6"/>
<line x1="374.70" y1="590.15" x2="374.70" y2="598.06" stroke="#000" stroke-width="0.8"/>
<line x1="372.10" y1="590.15" x2="377.30" y2="590.15" stroke="#000" stroke-width="0.8"/>
<rect x="385.50" y="562.47" width="10.50" height="75.13" fill="#a5a5a5" stroke="#777" stroke-width="0.6"/>
<line x1="390.70" y1="541.22" x2="390.70" y2="562.47" stroke="#888" stroke-width="0.8"/>
<line x1="388.10" y1="541.22" x2="393.30" y2="541.22" stroke="#888" stroke-width="0.8"/>
<rect x="401.50" y="547.65" width="10.50" height="89.95" fill="#7a7a7a" stroke="#555" stroke-width="0.6"/>
<line x1="406.70" y1="542.70" x2="406.70" y2="547.65" stroke="#888" stroke-width="0.8"/>
<line x1="404.10" y1="542.70" x2="409.30" y2="542.70" stroke="#888" stroke-width="0.8"/>
<rect x="417.50" y="552.59" width="10.50" height="85.01" fill="#d6d6d6" stroke="#9c9c9c" stroke-width="0.6"/>
<line x1="422.70" y1="552.09" x2="422.70" y2="552.59" stroke="#888" stroke-width="0.8"/>
<line x1="420.10" y1="552.09" x2="425.30" y2="552.09" stroke="#888" stroke-width="0.8"/>
<line x1="398.70" y1="637.60" x2="398.70" y2="640.20" stroke="#000" stroke-width="1"/>
<text x="401.3" y="646.9" font-size="7.5" font-weight="bold" stroke="#000" stroke-width="0.22" text-anchor="end" transform="rotate(-45 401.3 646.9)">Mac.1</text>
<text x="302.6" y="673.8" font-size="8.2" font-weight="bold" stroke="#000" stroke-width="0.22" text-anchor="start" fill="#000" textLength="117.5" lengthAdjust="spacingAndGlyphs" >APL cell differentiation marker</text>
<text x="0" y="0" font-size="7.4" font-weight="bold" stroke="#000" stroke-width="0.18" text-anchor="middle" transform="translate(266.2,589) rotate(-90)" textLength="90.5" lengthAdjust="spacingAndGlyphs">Percentage of APLcells (%)</text>
<rect x="437.60" y="544.90" width="10.90" height="4.00" fill="#000" stroke="#000" stroke-width="0.6"/>
<text x="454.3" y="549.8" font-size="8" stroke="#111" stroke-width="0.15" text-anchor="start" fill="#111" >DMSO</text>
<rect x="437.60" y="557.00" width="10.90" height="4.00" fill="#a5a5a5" stroke="#777" stroke-width="0.6"/>
<text x="454.3" y="561.9" font-size="8" stroke="#111" stroke-width="0.15" text-anchor="start" fill="#111" >0.05μM RGFP966</text>
<rect x="437.60" y="569.10" width="10.90" height="4.00" fill="#7a7a7a" stroke="#555" stroke-width="0.6"/>
<text x="454.3" y="574.0" font-size="8" stroke="#111" stroke-width="0.15" text-anchor="start" fill="#111" >0.1μM RGFP966</text>
<rect x="437.60" y="581.20" width="10.90" height="4.00" fill="#d6d6d6" stroke="#9c9c9c" stroke-width="0.6"/>
<text x="454.3" y="586.0999999999999" font-size="8" stroke="#111" stroke-width="0.15" text-anchor="start" fill="#111" >0.5μM RGFP966</text></svg></body></html>
